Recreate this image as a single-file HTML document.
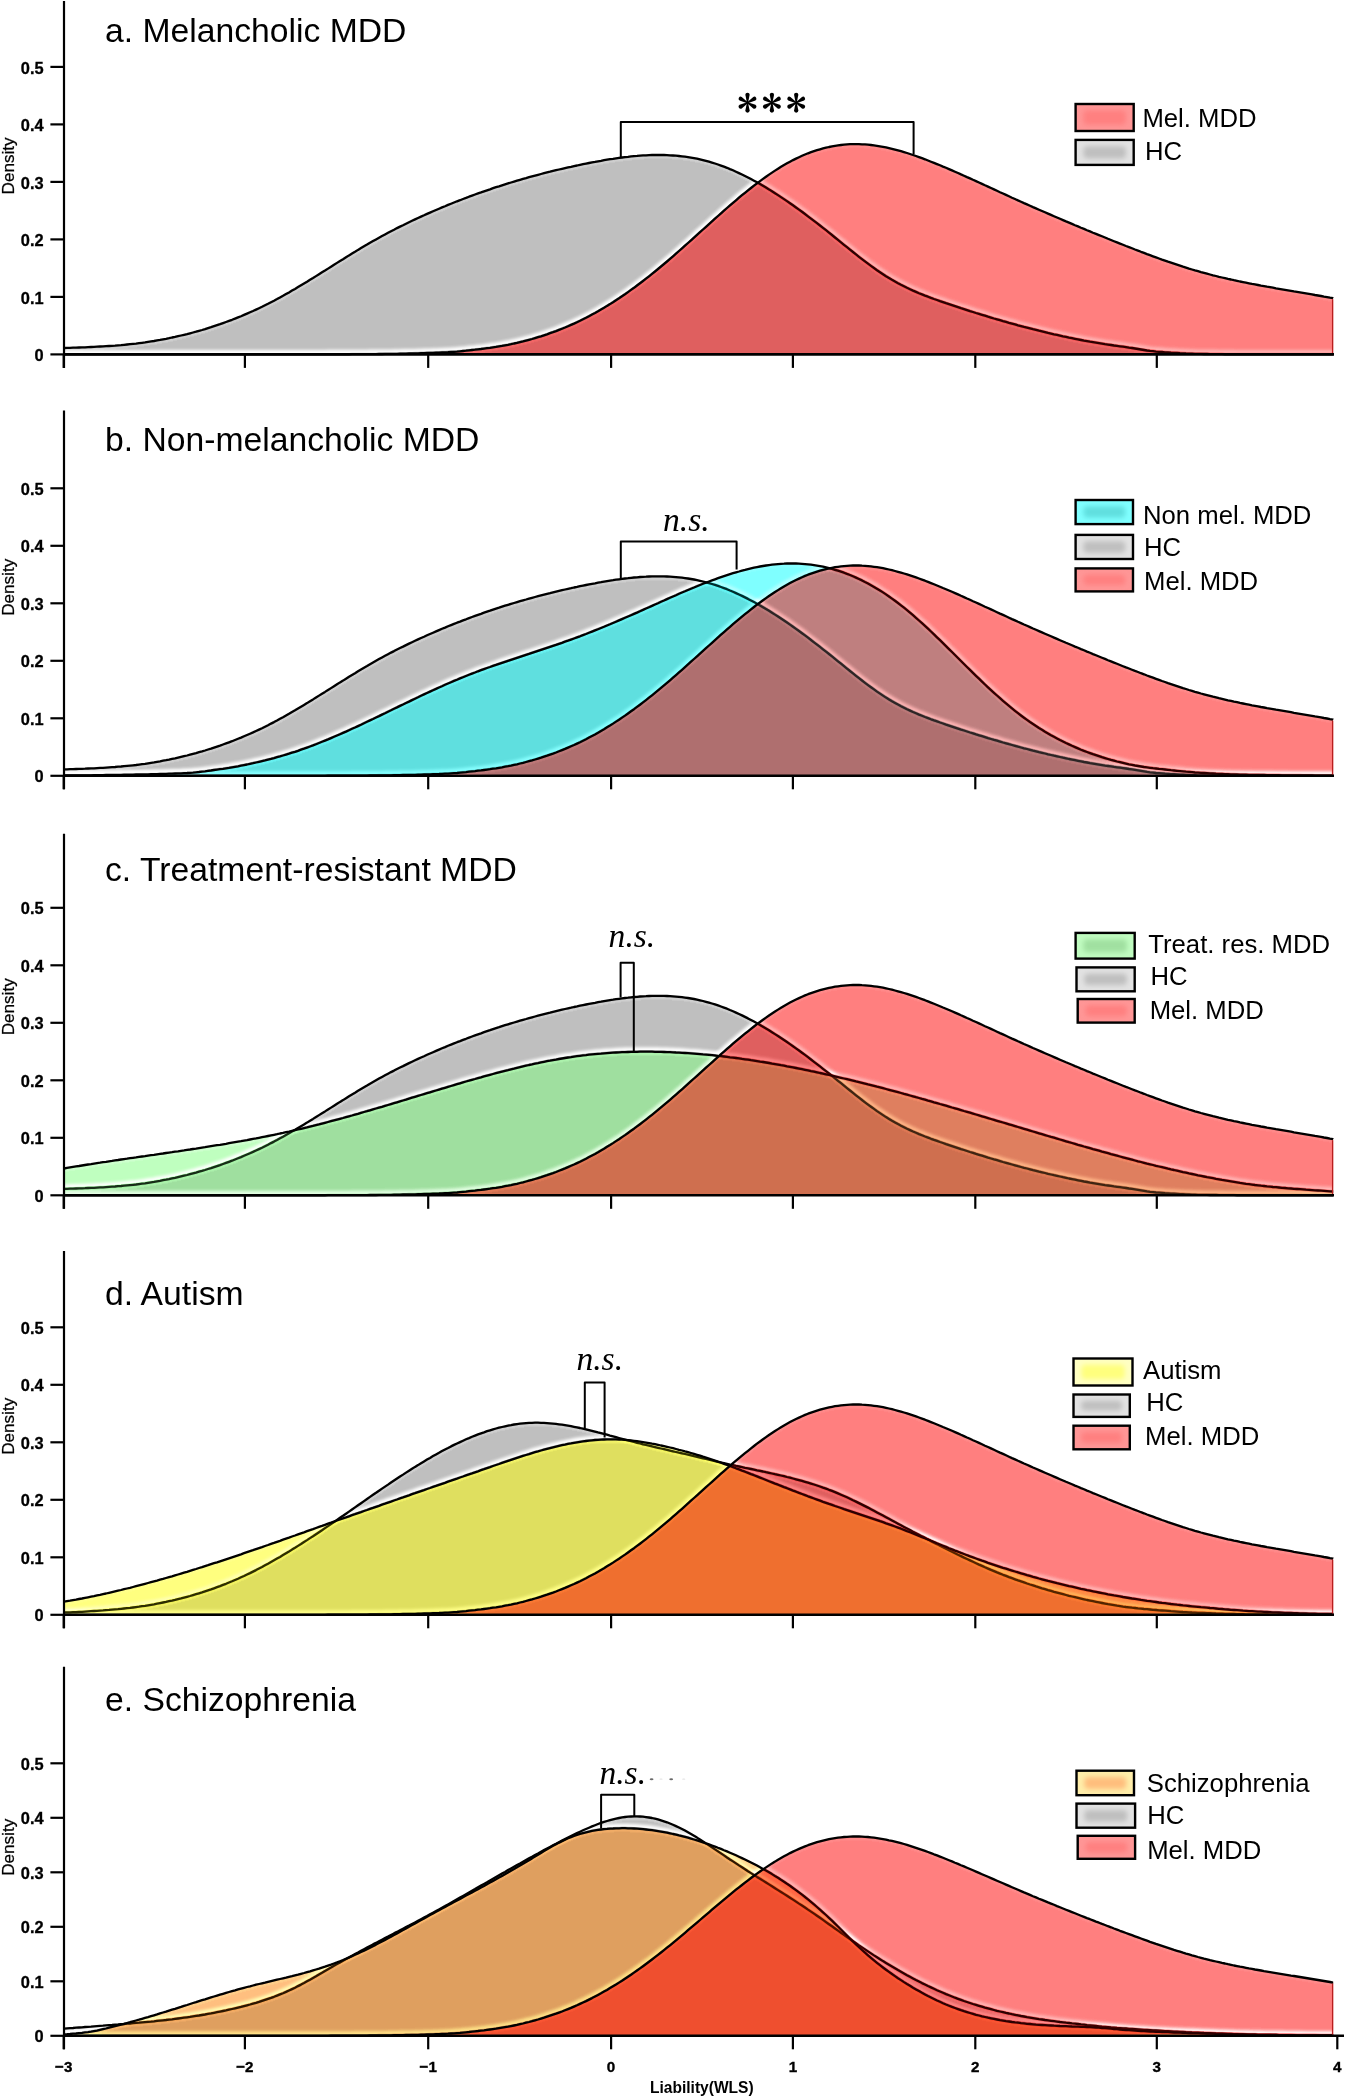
<!DOCTYPE html>
<html><head><meta charset="utf-8"><title>Liability density plots</title>
<style>
html,body{margin:0;padding:0;background:#fff;}
body{width:1345px;height:2097px;overflow:hidden;}
svg{display:block;}
text{fill:#000;}
.tt{font-family:"Liberation Sans",sans-serif;font-size:33.7px;}
.lg{font-family:"Liberation Sans",sans-serif;font-size:25.7px;}
.yt{font-family:"Liberation Sans",sans-serif;font-size:16.4px;font-weight:bold;text-anchor:end;stroke:#000;stroke-width:0.3px;}
.xt{font-family:"Liberation Sans",sans-serif;font-size:15.2px;font-weight:bold;text-anchor:middle;stroke:#000;stroke-width:0.35px;}
.dl{font-family:"Liberation Sans",sans-serif;font-size:17.1px;text-anchor:middle;stroke:#000;stroke-width:0.25px;}
.ns{font-family:"Liberation Serif",serif;font-size:33.6px;font-style:italic;}
.xl{font-family:"Liberation Sans",sans-serif;font-size:16.4px;font-weight:bold;text-anchor:middle;}
</style></head><body>
<svg width="1345" height="2097" viewBox="0 0 1345 2097">
<defs>
<filter id="lgb" x="-50%" y="-80%" width="200%" height="260%"><feGaussianBlur stdDeviation="2.6"/></filter>
<filter id="gb" x="-5%" y="-30%" width="110%" height="160%"><feGaussianBlur stdDeviation="1.8"/></filter>
<filter id="gb2" x="-5%" y="-30%" width="110%" height="160%"><feGaussianBlur stdDeviation="1.2"/></filter>
<path id="c_hca575" d="M64 -6.4l3 -0.1 3 -0.1 3 -0.1 3 -0.1 3 -0.1 3 -0.1 3 -0.1 3 -0.2 3 -0.1 3 -0.1 3 -0.2 3 -0.2 3 -0.1 3 -0.2 3 -0.2 3 -0.2 3 -0.2 3 -0.3 3 -0.2 3 -0.3 3 -0.3 3 -0.3 3 -0.3 3 -0.3 3 -0.4 3 -0.4 3 -0.4 3 -0.5 3 -0.5 3 -0.4 3 -0.6 3 -0.5 3 -0.6 3 -0.5 3 -0.6 3 -0.7 3 -0.6 3 -0.7 3 -0.7 3 -0.7 3 -0.7 3 -0.8 3 -0.8 3 -0.8 3 -0.9 3 -0.8 3 -0.9 3 -1 3 -0.9 3 -1 3 -1 3 -1 3 -1.1 3 -1.1 3 -1.1 3 -1.1 3 -1.2 3 -1.2 3 -1.2 3 -1.3 3 -1.3 3 -1.3 3 -1.3 3 -1.4 3 -1.4 3 -1.4 3 -1.5 3 -1.5 3 -1.6 3 -1.5 3 -1.6 3 -1.7 3 -1.6 3 -1.7 3 -1.7 3 -1.8 3 -1.7 3 -1.8 3 -1.8 3 -1.8 3 -1.8 3 -1.9 3 -1.8 3 -1.9 3 -1.9 3 -1.9 3 -1.8 3 -1.9 3 -1.9 3 -1.9 3 -1.9 3 -1.9 3 -1.8 3 -1.9 3 -1.9 3 -1.8 3 -1.8 3 -1.9 3 -1.8 3 -1.8 3 -1.7 3 -1.8 3 -1.7 3 -1.7 3 -1.7 3 -1.7 3 -1.6 3 -1.6 3 -1.6 3 -1.5 3 -1.6 3 -1.5 3 -1.4 3 -1.5 3 -1.5 3 -1.4 3 -1.4 3 -1.4 3 -1.4 3 -1.3 3 -1.4 3 -1.3 3 -1.3 3 -1.3 3 -1.3 3 -1.3 3 -1.2 3 -1.3 3 -1.2 3 -1.2 3 -1.2 3 -1.1 3 -1.2 3 -1.1 3 -1.2 3 -1.1 3 -1.1 3 -1.1 3 -1 3 -1.1 3 -1 3 -1 3 -1.1 3 -1 3 -0.9 3 -1 3 -1 3 -0.9 3 -0.9 3 -0.9 3 -0.9 3 -0.9 3 -0.9 3 -0.8 3 -0.9 3 -0.8 3 -0.8 3 -0.8 3 -0.8 3 -0.8 3 -0.8 3 -0.7 3 -0.8 3 -0.7 3 -0.7 3 -0.7 3 -0.7 3 -0.7 3 -0.6 3 -0.7 3 -0.6 3 -0.7 3 -0.6 3 -0.6 3 -0.6 3 -0.6 3 -0.5 3 -0.6 3 -0.5 3 -0.6 3 -0.5 3 -0.5 3 -0.4 3 -0.5 3 -0.4 3 -0.4 3 -0.4 3 -0.3 3 -0.4 3 -0.3 3 -0.2 3 -0.3 3 -0.2 3 -0.1 3 -0.2 3 -0.1 3 0 3 0 3 0 3 0 3 0.1 3 0.2 3 0.2 3 0.2 3 0.3 3 0.3 3 0.4 3 0.4 3 0.5 3 0.5 3 0.6 3 0.7 3 0.7 3 0.8 3 0.8 3 0.9 3 0.9 3 1 3 1.1 3 1.1 3 1.1 3 1.3 3 1.2 3 1.4 3 1.4 3 1.4 3 1.5 3 1.5 3 1.6 3 1.6 3 1.6 3 1.7 3 1.8 3 1.8 3 1.8 3 1.9 3 1.9 3 1.9 3 2 3 2 3 2 3 2.1 3 2.1 3 2.2 3 2.1 3 2.2 3 2.2 3 2.3 3 2.3 3 2.3 3 2.3 3 2.3 3 2.4 3 2.3 3 2.4 3 2.4 3 2.5 3 2.4 3 2.4 3 2.5 3 2.4 3 2.4 3 2.4 3 2.4 3 2.4 3 2.3 3 2.3 3 2.3 3 2.2 3 2.1 3 2.2 3 2 3 2 3 2 3 1.8 3 1.8 3 1.7 3 1.7 3 1.6 3 1.5 3 1.5 3 1.4 3 1.4 3 1.3 3 1.3 3 1.2 3 1.2 3 1.1 3 1.2 3 1.1 3 1 3 1.1 3 1 3 1.1 3 1 3 1 3 1 3 1 3 1 3 0.9 3 1 3 1 3 0.9 3 1 3 0.9 3 0.9 3 0.9 3 1 3 0.9 3 0.9 3 0.8 3 0.9 3 0.9 3 0.8 3 0.9 3 0.8 3 0.8 3 0.9 3 0.8 3 0.8 3 0.7 3 0.8 3 0.8 3 0.7 3 0.8 3 0.7 3 0.7 3 0.8 3 0.7 3 0.7 3 0.6 3 0.7 3 0.7 3 0.6 3 0.7 3 0.6 3 0.6 3 0.6 3 0.6 3 0.6 3 0.5 3 0.6 3 0.5 3 0.5 3 0.5 3 0.5 3 0.5 3 0.4 3 0.4 3 0.5 3 0.4 3 0.4 3 0.4 3 0.4 3 0.5 3 0.4 3 0.5 3 0.5 3 0.5 3 0.5 3 0.5 3 0.4 3 0.3 3 0.4 3 0.2 3 0.2 3 0.3 3 0.2 3 0.2 3 0.1 3 0.2 3 0.2 3 0.1 3 0.2 3 0.1 3 0.1 3 0.1 3 0.1 3 0 3 0.1 3 0 3 0.1 3 0 3 0 3 0.1 3 0 3 0.1 3 0 3 0 3 0 3 0.1 3 0 3 0 3 0 3 0 3 0 3 0 3 0 3 0 3 0 3 0 3 0 3 0 3 0 3 0 3 0 3 0 3 0 3 0 3 0 3 0 3 0 3 0 3 0 3 0 3 0 3 0 3 0 3 0 3 0 3 0 3 0 3 0 0.2 0"/>
<path id="f_hca575" d="M64 -6.4l3 -0.1 3 -0.1 3 -0.1 3 -0.1 3 -0.1 3 -0.1 3 -0.1 3 -0.2 3 -0.1 3 -0.1 3 -0.2 3 -0.2 3 -0.1 3 -0.2 3 -0.2 3 -0.2 3 -0.2 3 -0.3 3 -0.2 3 -0.3 3 -0.3 3 -0.3 3 -0.3 3 -0.3 3 -0.4 3 -0.4 3 -0.4 3 -0.5 3 -0.5 3 -0.4 3 -0.6 3 -0.5 3 -0.6 3 -0.5 3 -0.6 3 -0.7 3 -0.6 3 -0.7 3 -0.7 3 -0.7 3 -0.7 3 -0.8 3 -0.8 3 -0.8 3 -0.9 3 -0.8 3 -0.9 3 -1 3 -0.9 3 -1 3 -1 3 -1 3 -1.1 3 -1.1 3 -1.1 3 -1.1 3 -1.2 3 -1.2 3 -1.2 3 -1.3 3 -1.3 3 -1.3 3 -1.3 3 -1.4 3 -1.4 3 -1.4 3 -1.5 3 -1.5 3 -1.6 3 -1.5 3 -1.6 3 -1.7 3 -1.6 3 -1.7 3 -1.7 3 -1.8 3 -1.7 3 -1.8 3 -1.8 3 -1.8 3 -1.8 3 -1.9 3 -1.8 3 -1.9 3 -1.9 3 -1.9 3 -1.8 3 -1.9 3 -1.9 3 -1.9 3 -1.9 3 -1.9 3 -1.8 3 -1.9 3 -1.9 3 -1.8 3 -1.8 3 -1.9 3 -1.8 3 -1.8 3 -1.7 3 -1.8 3 -1.7 3 -1.7 3 -1.7 3 -1.7 3 -1.6 3 -1.6 3 -1.6 3 -1.5 3 -1.6 3 -1.5 3 -1.4 3 -1.5 3 -1.5 3 -1.4 3 -1.4 3 -1.4 3 -1.4 3 -1.3 3 -1.4 3 -1.3 3 -1.3 3 -1.3 3 -1.3 3 -1.3 3 -1.2 3 -1.3 3 -1.2 3 -1.2 3 -1.2 3 -1.1 3 -1.2 3 -1.1 3 -1.2 3 -1.1 3 -1.1 3 -1.1 3 -1 3 -1.1 3 -1 3 -1 3 -1.1 3 -1 3 -0.9 3 -1 3 -1 3 -0.9 3 -0.9 3 -0.9 3 -0.9 3 -0.9 3 -0.9 3 -0.8 3 -0.9 3 -0.8 3 -0.8 3 -0.8 3 -0.8 3 -0.8 3 -0.8 3 -0.7 3 -0.8 3 -0.7 3 -0.7 3 -0.7 3 -0.7 3 -0.7 3 -0.6 3 -0.7 3 -0.6 3 -0.7 3 -0.6 3 -0.6 3 -0.6 3 -0.6 3 -0.5 3 -0.6 3 -0.5 3 -0.6 3 -0.5 3 -0.5 3 -0.4 3 -0.5 3 -0.4 3 -0.4 3 -0.4 3 -0.3 3 -0.4 3 -0.3 3 -0.2 3 -0.3 3 -0.2 3 -0.1 3 -0.2 3 -0.1 3 0 3 0 3 0 3 0 3 0.1 3 0.2 3 0.2 3 0.2 3 0.3 3 0.3 3 0.4 3 0.4 3 0.5 3 0.5 3 0.6 3 0.7 3 0.7 3 0.8 3 0.8 3 0.9 3 0.9 3 1 3 1.1 3 1.1 3 1.1 3 1.3 3 1.2 3 1.4 3 1.4 3 1.4 3 1.5 3 1.5 3 1.6 3 1.6 3 1.6 3 1.7 3 1.8 3 1.8 3 1.8 3 1.9 3 1.9 3 1.9 3 2 3 2 3 2 3 2.1 3 2.1 3 2.2 3 2.1 3 2.2 3 2.2 3 2.3 3 2.3 3 2.3 3 2.3 3 2.3 3 2.4 3 2.3 3 2.4 3 2.4 3 2.5 3 2.4 3 2.4 3 2.5 3 2.4 3 2.4 3 2.4 3 2.4 3 2.4 3 2.3 3 2.3 3 2.3 3 2.2 3 2.1 3 2.2 3 2 3 2 3 2 3 1.8 3 1.8 3 1.7 3 1.7 3 1.6 3 1.5 3 1.5 3 1.4 3 1.4 3 1.3 3 1.3 3 1.2 3 1.2 3 1.1 3 1.2 3 1.1 3 1 3 1.1 3 1 3 1.1 3 1 3 1 3 1 3 1 3 1 3 0.9 3 1 3 1 3 0.9 3 1 3 0.9 3 0.9 3 0.9 3 1 3 0.9 3 0.9 3 0.8 3 0.9 3 0.9 3 0.8 3 0.9 3 0.8 3 0.8 3 0.9 3 0.8 3 0.8 3 0.7 3 0.8 3 0.8 3 0.7 3 0.8 3 0.7 3 0.7 3 0.8 3 0.7 3 0.7 3 0.6 3 0.7 3 0.7 3 0.6 3 0.7 3 0.6 3 0.6 3 0.6 3 0.6 3 0.6 3 0.5 3 0.6 3 0.5 3 0.5 3 0.5 3 0.5 3 0.5 3 0.4 3 0.4 3 0.5 3 0.4 3 0.4 3 0.4 3 0.4 3 0.5 3 0.4 3 0.5 3 0.5 3 0.5 3 0.5 3 0.5 3 0.4 3 0.3 3 0.4 3 0.2 3 0.2 3 0.3 3 0.2 3 0.2 3 0.1 3 0.2 3 0.2 3 0.1 3 0.2 3 0.1 3 0.1 3 0.1 3 0.1 3 0 3 0.1 3 0 3 0.1 3 0 3 0 3 0.1 3 0 3 0.1 3 0 3 0 3 0 3 0.1 3 0 3 0 3 0 3 0 3 0 3 0 3 0 3 0 3 0 3 0 3 0 3 0 3 0 3 0 3 0 3 0 3 0 3 0 3 0 3 0 3 0 3 0 3 0 3 0 3 0 3 0 3 0 3 0 3 0 3 0 3 0 3 0 0.2 0L1333.2 0L64 0Z"/>
<mask id="m_hca575" maskUnits="userSpaceOnUse" x="0" y="-420" width="1345" height="430"><rect x="0" y="-420" width="1345" height="430" fill="#fff"/><use href="#f_hca575" fill="#000" transform="translate(0,-1.6)"/></mask>
<mask id="mb_hca575" maskUnits="userSpaceOnUse" x="0" y="-420" width="1345" height="430"><use href="#f_hca575" fill="#fff" transform="translate(0,1.6)"/></mask>
<mask id="s_hca575" maskUnits="userSpaceOnUse" x="0" y="-420" width="1345" height="430"><use href="#c_hca575" fill="none" stroke="#fff" stroke-width="3.8"/></mask>
<path id="c_mel575" d="M64 0l3 0 3 0 3 0 3 0 3 0 3 0 3 0 3 0 3 0 3 0 3 0 3 0 3 0 3 0 3 0 3 0 3 0 3 0 3 0 3 0 3 0 3 0 3 0 3 0 3 0 3 0 3 0 3 0 3 0 3 0 3 0 3 0 3 0 3 0 3 0 3 0 3 0 3 0 3 0 3 0 3 0 3 0 3 0 3 0 3 0 3 0 3 0 3 0 3 0 3 0 3 0 3 0 3 0 3 0 3 0 3 0 3 0 3 0 3 0 3 0 3 0 3 0 3 0 3 0 3 0 3 0 3 0 3 0 3 0 3 0 3 0 3 0 3 0 3 0 3 0 3 0 3 0 3 0 3 0 3 0 3 0 3 0 3 0 3 0 3 0 3 0 3 0 3 -0.1 3 0 3 0 3 0 3 0 3 0 3 0 3 0 3 -0.1 3 0 3 0 3 0 3 0 3 0 3 -0.1 3 0 3 0 3 -0.1 3 0 3 -0.1 3 0 3 0 3 -0.1 3 0 3 -0.1 3 -0.1 3 0 3 -0.1 3 0 3 -0.1 3 -0.1 3 -0.1 3 -0.1 3 -0.1 3 -0.1 3 -0.1 3 -0.1 3 -0.1 3 -0.2 3 -0.1 3 -0.1 3 -0.2 3 -0.2 3 -0.2 3 -0.3 3 -0.3 3 -0.3 3 -0.4 3 -0.3 3 -0.3 3 -0.4 3 -0.3 3 -0.4 3 -0.4 3 -0.4 3 -0.5 3 -0.4 3 -0.5 3 -0.5 3 -0.6 3 -0.5 3 -0.6 3 -0.7 3 -0.6 3 -0.8 3 -0.7 3 -0.8 3 -0.8 3 -0.8 3 -0.9 3 -0.9 3 -0.9 3 -1 3 -1 3 -1.1 3 -1 3 -1.1 3 -1.2 3 -1.2 3 -1.2 3 -1.3 3 -1.3 3 -1.3 3 -1.4 3 -1.4 3 -1.5 3 -1.5 3 -1.6 3 -1.6 3 -1.6 3 -1.7 3 -1.8 3 -1.7 3 -1.9 3 -1.8 3 -1.9 3 -2 3 -1.9 3 -2.1 3 -2 3 -2.1 3 -2.2 3 -2.1 3 -2.3 3 -2.2 3 -2.3 3 -2.3 3 -2.4 3 -2.4 3 -2.4 3 -2.5 3 -2.5 3 -2.5 3 -2.5 3 -2.6 3 -2.6 3 -2.6 3 -2.7 3 -2.6 3 -2.7 3 -2.7 3 -2.7 3 -2.7 3 -2.7 3 -2.7 3 -2.7 3 -2.7 3 -2.7 3 -2.7 3 -2.7 3 -2.7 3 -2.7 3 -2.6 3 -2.7 3 -2.6 3 -2.6 3 -2.5 3 -2.6 3 -2.5 3 -2.4 3 -2.4 3 -2.4 3 -2.4 3 -2.3 3 -2.2 3 -2.2 3 -2.2 3 -2.1 3 -2 3 -2 3 -1.9 3 -1.9 3 -1.8 3 -1.7 3 -1.6 3 -1.6 3 -1.5 3 -1.4 3 -1.4 3 -1.3 3 -1.2 3 -1.1 3 -1 3 -1 3 -0.9 3 -0.9 3 -0.7 3 -0.7 3 -0.6 3 -0.6 3 -0.4 3 -0.4 3 -0.3 3 -0.3 3 -0.2 3 -0.1 3 0 3 0 3 0.2 3 0.1 3 0.3 3 0.3 3 0.4 3 0.4 3 0.5 3 0.5 3 0.6 3 0.7 3 0.7 3 0.8 3 0.8 3 0.8 3 0.9 3 0.9 3 1 3 1 3 1 3 1.1 3 1.1 3 1.1 3 1.2 3 1.2 3 1.2 3 1.2 3 1.2 3 1.3 3 1.2 3 1.3 3 1.3 3 1.3 3 1.3 3 1.4 3 1.3 3 1.4 3 1.3 3 1.4 3 1.3 3 1.4 3 1.4 3 1.4 3 1.3 3 1.4 3 1.4 3 1.4 3 1.4 3 1.3 3 1.4 3 1.4 3 1.4 3 1.3 3 1.4 3 1.3 3 1.4 3 1.3 3 1.3 3 1.4 3 1.3 3 1.3 3 1.3 3 1.3 3 1.3 3 1.3 3 1.3 3 1.3 3 1.3 3 1.3 3 1.3 3 1.2 3 1.3 3 1.3 3 1.2 3 1.3 3 1.2 3 1.3 3 1.2 3 1.3 3 1.2 3 1.2 3 1.2 3 1.2 3 1.3 3 1.2 3 1.2 3 1.2 3 1.2 3 1.2 3 1.2 3 1.1 3 1.2 3 1.2 3 1.1 3 1.2 3 1.1 3 1.2 3 1.1 3 1.1 3 1.1 3 1.1 3 1.1 3 1 3 1.1 3 1 3 1 3 1 3 1 3 1 3 0.9 3 1 3 0.9 3 0.9 3 0.8 3 0.9 3 0.8 3 0.8 3 0.8 3 0.8 3 0.7 3 0.8 3 0.7 3 0.7 3 0.7 3 0.6 3 0.7 3 0.6 3 0.7 3 0.6 3 0.6 3 0.6 3 0.6 3 0.5 3 0.6 3 0.6 3 0.5 3 0.6 3 0.5 3 0.5 3 0.6 3 0.5 3 0.5 3 0.5 3 0.5 3 0.5 3 0.6 3 0.5 3 0.5 3 0.5 3 0.5 3 0.5 3 0.5 3 0.6 3 0.5 3 0.5 3 0.6 3 0.5 3 0.6 3 0.5 0.2 0.1"/>
<path id="f_mel575" d="M64 0l3 0 3 0 3 0 3 0 3 0 3 0 3 0 3 0 3 0 3 0 3 0 3 0 3 0 3 0 3 0 3 0 3 0 3 0 3 0 3 0 3 0 3 0 3 0 3 0 3 0 3 0 3 0 3 0 3 0 3 0 3 0 3 0 3 0 3 0 3 0 3 0 3 0 3 0 3 0 3 0 3 0 3 0 3 0 3 0 3 0 3 0 3 0 3 0 3 0 3 0 3 0 3 0 3 0 3 0 3 0 3 0 3 0 3 0 3 0 3 0 3 0 3 0 3 0 3 0 3 0 3 0 3 0 3 0 3 0 3 0 3 0 3 0 3 0 3 0 3 0 3 0 3 0 3 0 3 0 3 0 3 0 3 0 3 0 3 0 3 0 3 0 3 0 3 -0.1 3 0 3 0 3 0 3 0 3 0 3 0 3 0 3 -0.1 3 0 3 0 3 0 3 0 3 0 3 -0.1 3 0 3 0 3 -0.1 3 0 3 -0.1 3 0 3 0 3 -0.1 3 0 3 -0.1 3 -0.1 3 0 3 -0.1 3 0 3 -0.1 3 -0.1 3 -0.1 3 -0.1 3 -0.1 3 -0.1 3 -0.1 3 -0.1 3 -0.1 3 -0.2 3 -0.1 3 -0.1 3 -0.2 3 -0.2 3 -0.2 3 -0.3 3 -0.3 3 -0.3 3 -0.4 3 -0.3 3 -0.3 3 -0.4 3 -0.3 3 -0.4 3 -0.4 3 -0.4 3 -0.5 3 -0.4 3 -0.5 3 -0.5 3 -0.6 3 -0.5 3 -0.6 3 -0.7 3 -0.6 3 -0.8 3 -0.7 3 -0.8 3 -0.8 3 -0.8 3 -0.9 3 -0.9 3 -0.9 3 -1 3 -1 3 -1.1 3 -1 3 -1.1 3 -1.2 3 -1.2 3 -1.2 3 -1.3 3 -1.3 3 -1.3 3 -1.4 3 -1.4 3 -1.5 3 -1.5 3 -1.6 3 -1.6 3 -1.6 3 -1.7 3 -1.8 3 -1.7 3 -1.9 3 -1.8 3 -1.9 3 -2 3 -1.9 3 -2.1 3 -2 3 -2.1 3 -2.2 3 -2.1 3 -2.3 3 -2.2 3 -2.3 3 -2.3 3 -2.4 3 -2.4 3 -2.4 3 -2.5 3 -2.5 3 -2.5 3 -2.5 3 -2.6 3 -2.6 3 -2.6 3 -2.7 3 -2.6 3 -2.7 3 -2.7 3 -2.7 3 -2.7 3 -2.7 3 -2.7 3 -2.7 3 -2.7 3 -2.7 3 -2.7 3 -2.7 3 -2.7 3 -2.7 3 -2.6 3 -2.7 3 -2.6 3 -2.6 3 -2.5 3 -2.6 3 -2.5 3 -2.4 3 -2.4 3 -2.4 3 -2.4 3 -2.3 3 -2.2 3 -2.2 3 -2.2 3 -2.1 3 -2 3 -2 3 -1.9 3 -1.9 3 -1.8 3 -1.7 3 -1.6 3 -1.6 3 -1.5 3 -1.4 3 -1.4 3 -1.3 3 -1.2 3 -1.1 3 -1 3 -1 3 -0.9 3 -0.9 3 -0.7 3 -0.7 3 -0.6 3 -0.6 3 -0.4 3 -0.4 3 -0.3 3 -0.3 3 -0.2 3 -0.1 3 0 3 0 3 0.2 3 0.1 3 0.3 3 0.3 3 0.4 3 0.4 3 0.5 3 0.5 3 0.6 3 0.7 3 0.7 3 0.8 3 0.8 3 0.8 3 0.9 3 0.9 3 1 3 1 3 1 3 1.1 3 1.1 3 1.1 3 1.2 3 1.2 3 1.2 3 1.2 3 1.2 3 1.3 3 1.2 3 1.3 3 1.3 3 1.3 3 1.3 3 1.4 3 1.3 3 1.4 3 1.3 3 1.4 3 1.3 3 1.4 3 1.4 3 1.4 3 1.3 3 1.4 3 1.4 3 1.4 3 1.4 3 1.3 3 1.4 3 1.4 3 1.4 3 1.3 3 1.4 3 1.3 3 1.4 3 1.3 3 1.3 3 1.4 3 1.3 3 1.3 3 1.3 3 1.3 3 1.3 3 1.3 3 1.3 3 1.3 3 1.3 3 1.3 3 1.3 3 1.2 3 1.3 3 1.3 3 1.2 3 1.3 3 1.2 3 1.3 3 1.2 3 1.3 3 1.2 3 1.2 3 1.2 3 1.2 3 1.3 3 1.2 3 1.2 3 1.2 3 1.2 3 1.2 3 1.2 3 1.1 3 1.2 3 1.2 3 1.1 3 1.2 3 1.1 3 1.2 3 1.1 3 1.1 3 1.1 3 1.1 3 1.1 3 1 3 1.1 3 1 3 1 3 1 3 1 3 1 3 0.9 3 1 3 0.9 3 0.9 3 0.8 3 0.9 3 0.8 3 0.8 3 0.8 3 0.8 3 0.7 3 0.8 3 0.7 3 0.7 3 0.7 3 0.6 3 0.7 3 0.6 3 0.7 3 0.6 3 0.6 3 0.6 3 0.6 3 0.5 3 0.6 3 0.6 3 0.5 3 0.6 3 0.5 3 0.5 3 0.6 3 0.5 3 0.5 3 0.5 3 0.5 3 0.5 3 0.6 3 0.5 3 0.5 3 0.5 3 0.5 3 0.5 3 0.5 3 0.6 3 0.5 3 0.5 3 0.6 3 0.5 3 0.6 3 0.5 0.2 0.1L1333.2 0L64 0Z"/>
<mask id="m_mel575" maskUnits="userSpaceOnUse" x="0" y="-420" width="1345" height="430"><rect x="0" y="-420" width="1345" height="430" fill="#fff"/><use href="#f_mel575" fill="#000" transform="translate(0,-1.6)"/></mask>
<mask id="mb_mel575" maskUnits="userSpaceOnUse" x="0" y="-420" width="1345" height="430"><use href="#f_mel575" fill="#fff" transform="translate(0,1.6)"/></mask>
<mask id="s_mel575" maskUnits="userSpaceOnUse" x="0" y="-420" width="1345" height="430"><use href="#c_mel575" fill="none" stroke="#fff" stroke-width="3.8"/></mask>
<path id="c_nonmel575" d="M64 -0.3l3 0 3 0 3 -0.1 3 0 3 0 3 0 3 -0.1 3 0 3 0 3 -0.1 3 0 3 -0.1 3 0 3 -0.1 3 0 3 -0.1 3 0 3 -0.1 3 0 3 -0.1 3 0 3 -0.1 3 0 3 -0.1 3 0 3 -0.1 3 -0.1 3 0 3 -0.1 3 -0.1 3 0 3 -0.1 3 -0.1 3 -0.1 3 -0.1 3 -0.1 3 -0.1 3 -0.1 3 -0.1 3 -0.2 3 -0.1 3 -0.2 3 -0.2 3 -0.3 3 -0.3 3 -0.4 3 -0.3 3 -0.4 3 -0.4 3 -0.5 3 -0.4 3 -0.4 3 -0.4 3 -0.5 3 -0.4 3 -0.6 3 -0.5 3 -0.5 3 -0.6 3 -0.6 3 -0.6 3 -0.7 3 -0.6 3 -0.7 3 -0.7 3 -0.7 3 -0.7 3 -0.8 3 -0.7 3 -0.8 3 -0.9 3 -0.8 3 -0.9 3 -0.9 3 -0.9 3 -1 3 -0.9 3 -1 3 -1.1 3 -1 3 -1.1 3 -1.1 3 -1.1 3 -1.2 3 -1.2 3 -1.2 3 -1.2 3 -1.2 3 -1.3 3 -1.3 3 -1.3 3 -1.3 3 -1.3 3 -1.3 3 -1.4 3 -1.4 3 -1.3 3 -1.4 3 -1.4 3 -1.5 3 -1.4 3 -1.4 3 -1.4 3 -1.5 3 -1.4 3 -1.5 3 -1.4 3 -1.5 3 -1.4 3 -1.5 3 -1.4 3 -1.5 3 -1.4 3 -1.5 3 -1.4 3 -1.5 3 -1.4 3 -1.4 3 -1.5 3 -1.4 3 -1.4 3 -1.4 3 -1.4 3 -1.3 3 -1.4 3 -1.3 3 -1.4 3 -1.3 3 -1.3 3 -1.3 3 -1.2 3 -1.3 3 -1.2 3 -1.2 3 -1.2 3 -1.2 3 -1.1 3 -1.2 3 -1.1 3 -1.1 3 -1.1 3 -1 3 -1.1 3 -1 3 -1.1 3 -1 3 -1 3 -1 3 -1 3 -1 3 -1 3 -1 3 -1 3 -1 3 -0.9 3 -1 3 -1 3 -1 3 -1 3 -1 3 -1 3 -1 3 -1 3 -1 3 -1.1 3 -1 3 -1.1 3 -1 3 -1.1 3 -1.1 3 -1.1 3 -1.1 3 -1.2 3 -1.1 3 -1.2 3 -1.2 3 -1.2 3 -1.2 3 -1.2 3 -1.2 3 -1.3 3 -1.2 3 -1.3 3 -1.3 3 -1.3 3 -1.3 3 -1.3 3 -1.3 3 -1.3 3 -1.3 3 -1.3 3 -1.4 3 -1.3 3 -1.4 3 -1.3 3 -1.3 3 -1.4 3 -1.3 3 -1.4 3 -1.3 3 -1.4 3 -1.3 3 -1.3 3 -1.3 3 -1.4 3 -1.3 3 -1.2 3 -1.3 3 -1.3 3 -1.2 3 -1.3 3 -1.2 3 -1.2 3 -1.2 3 -1.1 3 -1.1 3 -1.1 3 -1.1 3 -1.1 3 -1 3 -1 3 -1 3 -0.9 3 -0.9 3 -0.8 3 -0.9 3 -0.7 3 -0.8 3 -0.7 3 -0.7 3 -0.6 3 -0.6 3 -0.5 3 -0.5 3 -0.4 3 -0.4 3 -0.3 3 -0.3 3 -0.3 3 -0.1 3 -0.2 3 0 3 0 3 0 3 0.1 3 0.2 3 0.3 3 0.3 3 0.3 3 0.4 3 0.5 3 0.5 3 0.6 3 0.7 3 0.7 3 0.8 3 0.9 3 0.9 3 1 3 1 3 1.2 3 1.1 3 1.3 3 1.3 3 1.4 3 1.4 3 1.6 3 1.5 3 1.7 3 1.7 3 1.8 3 1.8 3 1.9 3 2 3 2.1 3 2.1 3 2.2 3 2.2 3 2.3 3 2.4 3 2.4 3 2.5 3 2.6 3 2.6 3 2.7 3 2.7 3 2.7 3 2.8 3 2.8 3 2.9 3 2.9 3 2.9 3 2.9 3 3 3 3 3 2.9 3 3 3 3 3 3 3 3 3 3 3 2.9 3 3 3 2.9 3 2.9 3 2.9 3 2.9 3 2.8 3 2.8 3 2.7 3 2.7 3 2.7 3 2.6 3 2.6 3 2.5 3 2.5 3 2.4 3 2.4 3 2.3 3 2.2 3 2.2 3 2.1 3 2 3 2 3 2 3 1.8 3 1.9 3 1.7 3 1.8 3 1.6 3 1.6 3 1.6 3 1.5 3 1.5 3 1.4 3 1.4 3 1.3 3 1.3 3 1.3 3 1.2 3 1.1 3 1.1 3 1.1 3 1 3 1 3 1 3 0.9 3 0.9 3 0.9 3 0.8 3 0.8 3 0.7 3 0.7 3 0.7 3 0.7 3 0.6 3 0.6 3 0.5 3 0.5 3 0.5 3 0.4 3 0.4 3 0.4 3 0.3 3 0.4 3 0.3 3 0.3 3 0.3 3 0.4 3 0.3 3 0.3 3 0.3 3 0.3 3 0.3 3 0.2 3 0.3 3 0.3 3 0.2 3 0.2 3 0.1 3 0.2 3 0.2 3 0.1 3 0.2 3 0.1 3 0.1 3 0.2 3 0.1 3 0.1 3 0.1 3 0.1 3 0.1 3 0.1 3 0 3 0.1 3 0 3 0.1 3 0 3 0.1 3 0 3 0.1 3 0 3 0 3 0.1 3 0 3 0.1 3 0 3 0 3 0.1 3 0 3 0 3 0 3 0.1 3 0 3 0 3 0 3 0.1 3 0 3 0 3 0 3 0 3 0 3 0 0.2 0"/>
<path id="f_nonmel575" d="M64 -0.3l3 0 3 0 3 -0.1 3 0 3 0 3 0 3 -0.1 3 0 3 0 3 -0.1 3 0 3 -0.1 3 0 3 -0.1 3 0 3 -0.1 3 0 3 -0.1 3 0 3 -0.1 3 0 3 -0.1 3 0 3 -0.1 3 0 3 -0.1 3 -0.1 3 0 3 -0.1 3 -0.1 3 0 3 -0.1 3 -0.1 3 -0.1 3 -0.1 3 -0.1 3 -0.1 3 -0.1 3 -0.1 3 -0.2 3 -0.1 3 -0.2 3 -0.2 3 -0.3 3 -0.3 3 -0.4 3 -0.3 3 -0.4 3 -0.4 3 -0.5 3 -0.4 3 -0.4 3 -0.4 3 -0.5 3 -0.4 3 -0.6 3 -0.5 3 -0.5 3 -0.6 3 -0.6 3 -0.6 3 -0.7 3 -0.6 3 -0.7 3 -0.7 3 -0.7 3 -0.7 3 -0.8 3 -0.7 3 -0.8 3 -0.9 3 -0.8 3 -0.9 3 -0.9 3 -0.9 3 -1 3 -0.9 3 -1 3 -1.1 3 -1 3 -1.1 3 -1.1 3 -1.1 3 -1.2 3 -1.2 3 -1.2 3 -1.2 3 -1.2 3 -1.3 3 -1.3 3 -1.3 3 -1.3 3 -1.3 3 -1.3 3 -1.4 3 -1.4 3 -1.3 3 -1.4 3 -1.4 3 -1.5 3 -1.4 3 -1.4 3 -1.4 3 -1.5 3 -1.4 3 -1.5 3 -1.4 3 -1.5 3 -1.4 3 -1.5 3 -1.4 3 -1.5 3 -1.4 3 -1.5 3 -1.4 3 -1.5 3 -1.4 3 -1.4 3 -1.5 3 -1.4 3 -1.4 3 -1.4 3 -1.4 3 -1.3 3 -1.4 3 -1.3 3 -1.4 3 -1.3 3 -1.3 3 -1.3 3 -1.2 3 -1.3 3 -1.2 3 -1.2 3 -1.2 3 -1.2 3 -1.1 3 -1.2 3 -1.1 3 -1.1 3 -1.1 3 -1 3 -1.1 3 -1 3 -1.1 3 -1 3 -1 3 -1 3 -1 3 -1 3 -1 3 -1 3 -1 3 -1 3 -0.9 3 -1 3 -1 3 -1 3 -1 3 -1 3 -1 3 -1 3 -1 3 -1 3 -1.1 3 -1 3 -1.1 3 -1 3 -1.1 3 -1.1 3 -1.1 3 -1.1 3 -1.2 3 -1.1 3 -1.2 3 -1.2 3 -1.2 3 -1.2 3 -1.2 3 -1.2 3 -1.3 3 -1.2 3 -1.3 3 -1.3 3 -1.3 3 -1.3 3 -1.3 3 -1.3 3 -1.3 3 -1.3 3 -1.3 3 -1.4 3 -1.3 3 -1.4 3 -1.3 3 -1.3 3 -1.4 3 -1.3 3 -1.4 3 -1.3 3 -1.4 3 -1.3 3 -1.3 3 -1.3 3 -1.4 3 -1.3 3 -1.2 3 -1.3 3 -1.3 3 -1.2 3 -1.3 3 -1.2 3 -1.2 3 -1.2 3 -1.1 3 -1.1 3 -1.1 3 -1.1 3 -1.1 3 -1 3 -1 3 -1 3 -0.9 3 -0.9 3 -0.8 3 -0.9 3 -0.7 3 -0.8 3 -0.7 3 -0.7 3 -0.6 3 -0.6 3 -0.5 3 -0.5 3 -0.4 3 -0.4 3 -0.3 3 -0.3 3 -0.3 3 -0.1 3 -0.2 3 0 3 0 3 0 3 0.1 3 0.2 3 0.3 3 0.3 3 0.3 3 0.4 3 0.5 3 0.5 3 0.6 3 0.7 3 0.7 3 0.8 3 0.9 3 0.9 3 1 3 1 3 1.2 3 1.1 3 1.3 3 1.3 3 1.4 3 1.4 3 1.6 3 1.5 3 1.7 3 1.7 3 1.8 3 1.8 3 1.9 3 2 3 2.1 3 2.1 3 2.2 3 2.2 3 2.3 3 2.4 3 2.4 3 2.5 3 2.6 3 2.6 3 2.7 3 2.7 3 2.7 3 2.8 3 2.8 3 2.9 3 2.9 3 2.9 3 2.9 3 3 3 3 3 2.9 3 3 3 3 3 3 3 3 3 3 3 2.9 3 3 3 2.9 3 2.9 3 2.9 3 2.9 3 2.8 3 2.8 3 2.7 3 2.7 3 2.7 3 2.6 3 2.6 3 2.5 3 2.5 3 2.4 3 2.4 3 2.3 3 2.2 3 2.2 3 2.1 3 2 3 2 3 2 3 1.8 3 1.9 3 1.7 3 1.8 3 1.6 3 1.6 3 1.6 3 1.5 3 1.5 3 1.4 3 1.4 3 1.3 3 1.3 3 1.3 3 1.2 3 1.1 3 1.1 3 1.1 3 1 3 1 3 1 3 0.9 3 0.9 3 0.9 3 0.8 3 0.8 3 0.7 3 0.7 3 0.7 3 0.7 3 0.6 3 0.6 3 0.5 3 0.5 3 0.5 3 0.4 3 0.4 3 0.4 3 0.3 3 0.4 3 0.3 3 0.3 3 0.3 3 0.4 3 0.3 3 0.3 3 0.3 3 0.3 3 0.3 3 0.2 3 0.3 3 0.3 3 0.2 3 0.2 3 0.1 3 0.2 3 0.2 3 0.1 3 0.2 3 0.1 3 0.1 3 0.2 3 0.1 3 0.1 3 0.1 3 0.1 3 0.1 3 0.1 3 0 3 0.1 3 0 3 0.1 3 0 3 0.1 3 0 3 0.1 3 0 3 0 3 0.1 3 0 3 0.1 3 0 3 0 3 0.1 3 0 3 0 3 0 3 0.1 3 0 3 0 3 0 3 0.1 3 0 3 0 3 0 3 0 3 0 3 0 0.2 0L1333.2 0L64 0Z"/>
<mask id="m_nonmel575" maskUnits="userSpaceOnUse" x="0" y="-420" width="1345" height="430"><rect x="0" y="-420" width="1345" height="430" fill="#fff"/><use href="#f_nonmel575" fill="#000" transform="translate(0,-1.6)"/></mask>
<mask id="mb_nonmel575" maskUnits="userSpaceOnUse" x="0" y="-420" width="1345" height="430"><use href="#f_nonmel575" fill="#fff" transform="translate(0,1.6)"/></mask>
<mask id="s_nonmel575" maskUnits="userSpaceOnUse" x="0" y="-420" width="1345" height="430"><use href="#c_nonmel575" fill="none" stroke="#fff" stroke-width="3.8"/></mask>
<path id="c_treat575" d="M64 -26.8l3 -0.6 3 -0.5 3 -0.5 3 -0.5 3 -0.4 3 -0.5 3 -0.5 3 -0.5 3 -0.4 3 -0.5 3 -0.5 3 -0.4 3 -0.5 3 -0.4 3 -0.5 3 -0.4 3 -0.5 3 -0.4 3 -0.5 3 -0.4 3 -0.4 3 -0.5 3 -0.4 3 -0.4 3 -0.5 3 -0.4 3 -0.4 3 -0.5 3 -0.4 3 -0.4 3 -0.5 3 -0.4 3 -0.4 3 -0.5 3 -0.4 3 -0.4 3 -0.5 3 -0.4 3 -0.5 3 -0.4 3 -0.5 3 -0.4 3 -0.5 3 -0.4 3 -0.5 3 -0.5 3 -0.4 3 -0.5 3 -0.5 3 -0.5 3 -0.5 3 -0.4 3 -0.5 3 -0.5 3 -0.6 3 -0.5 3 -0.5 3 -0.5 3 -0.5 3 -0.6 3 -0.5 3 -0.6 3 -0.6 3 -0.5 3 -0.6 3 -0.6 3 -0.6 3 -0.6 3 -0.6 3 -0.6 3 -0.6 3 -0.7 3 -0.6 3 -0.7 3 -0.6 3 -0.7 3 -0.7 3 -0.7 3 -0.7 3 -0.7 3 -0.7 3 -0.8 3 -0.7 3 -0.8 3 -0.7 3 -0.8 3 -0.8 3 -0.8 3 -0.8 3 -0.8 3 -0.8 3 -0.8 3 -0.8 3 -0.9 3 -0.8 3 -0.8 3 -0.9 3 -0.8 3 -0.9 3 -0.9 3 -0.8 3 -0.9 3 -0.9 3 -0.9 3 -0.9 3 -0.8 3 -0.9 3 -0.9 3 -0.9 3 -0.9 3 -0.9 3 -0.9 3 -0.9 3 -0.9 3 -1 3 -0.9 3 -0.9 3 -0.9 3 -0.9 3 -0.9 3 -0.9 3 -0.9 3 -0.9 3 -0.9 3 -0.9 3 -0.9 3 -0.9 3 -0.9 3 -0.9 3 -0.9 3 -0.9 3 -0.9 3 -0.9 3 -0.9 3 -0.8 3 -0.9 3 -0.8 3 -0.9 3 -0.8 3 -0.9 3 -0.8 3 -0.8 3 -0.8 3 -0.8 3 -0.8 3 -0.8 3 -0.8 3 -0.7 3 -0.8 3 -0.7 3 -0.8 3 -0.7 3 -0.7 3 -0.7 3 -0.7 3 -0.6 3 -0.7 3 -0.6 3 -0.7 3 -0.6 3 -0.6 3 -0.5 3 -0.6 3 -0.5 3 -0.6 3 -0.5 3 -0.5 3 -0.5 3 -0.4 3 -0.5 3 -0.4 3 -0.4 3 -0.4 3 -0.3 3 -0.4 3 -0.3 3 -0.3 3 -0.3 3 -0.2 3 -0.3 3 -0.2 3 -0.2 3 -0.2 3 -0.2 3 -0.2 3 -0.1 3 -0.1 3 -0.1 3 -0.1 3 -0.1 3 0 3 -0.1 3 0 3 0 3 0 3 0 3 0.1 3 0 3 0.1 3 0.1 3 0.1 3 0.1 3 0.1 3 0.2 3 0.1 3 0.2 3 0.2 3 0.2 3 0.2 3 0.2 3 0.2 3 0.3 3 0.3 3 0.2 3 0.3 3 0.3 3 0.3 3 0.4 3 0.3 3 0.3 3 0.4 3 0.4 3 0.3 3 0.4 3 0.4 3 0.5 3 0.4 3 0.4 3 0.5 3 0.4 3 0.5 3 0.5 3 0.4 3 0.5 3 0.5 3 0.6 3 0.5 3 0.5 3 0.6 3 0.5 3 0.6 3 0.5 3 0.6 3 0.6 3 0.6 3 0.6 3 0.6 3 0.6 3 0.7 3 0.6 3 0.6 3 0.7 3 0.6 3 0.7 3 0.7 3 0.7 3 0.7 3 0.7 3 0.7 3 0.7 3 0.7 3 0.7 3 0.7 3 0.8 3 0.7 3 0.7 3 0.8 3 0.8 3 0.7 3 0.8 3 0.8 3 0.7 3 0.8 3 0.8 3 0.8 3 0.8 3 0.8 3 0.8 3 0.8 3 0.9 3 0.8 3 0.8 3 0.8 3 0.9 3 0.8 3 0.9 3 0.8 3 0.9 3 0.8 3 0.9 3 0.8 3 0.9 3 0.8 3 0.9 3 0.9 3 0.9 3 0.8 3 0.9 3 0.9 3 0.9 3 0.8 3 0.9 3 0.9 3 0.9 3 0.9 3 0.9 3 0.9 3 0.9 3 0.9 3 0.9 3 0.9 3 0.9 3 0.8 3 0.9 3 0.9 3 0.9 3 0.9 3 0.9 3 0.9 3 0.9 3 0.9 3 0.9 3 0.9 3 0.9 3 0.9 3 0.9 3 0.9 3 0.9 3 0.9 3 0.8 3 0.9 3 0.9 3 0.9 3 0.9 3 0.9 3 0.8 3 0.9 3 0.9 3 0.8 3 0.9 3 0.8 3 0.9 3 0.9 3 0.8 3 0.8 3 0.9 3 0.8 3 0.8 3 0.9 3 0.8 3 0.8 3 0.8 3 0.8 3 0.8 3 0.8 3 0.8 3 0.8 3 0.8 3 0.7 3 0.8 3 0.8 3 0.7 3 0.7 3 0.8 3 0.7 3 0.7 3 0.7 3 0.8 3 0.7 3 0.6 3 0.7 3 0.7 3 0.7 3 0.6 3 0.7 3 0.6 3 0.6 3 0.7 3 0.6 3 0.6 3 0.6 3 0.5 3 0.6 3 0.6 3 0.5 3 0.6 3 0.5 3 0.5 3 0.5 3 0.5 3 0.5 3 0.5 3 0.4 3 0.5 3 0.4 3 0.4 3 0.4 3 0.3 3 0.4 3 0.3 3 0.4 3 0.3 3 0.3 3 0.2 3 0.3 3 0.3 3 0.2 3 0.3 3 0.2 3 0.3 3 0.2 3 0.2 3 0.2 3 0.3 3 0.2 3 0.2 3 0.2 3 0.2 3 0.2 3 0.2 3 0.2 3 0.2 3 0.2 0.2 0"/>
<path id="f_treat575" d="M64 -26.8l3 -0.6 3 -0.5 3 -0.5 3 -0.5 3 -0.4 3 -0.5 3 -0.5 3 -0.5 3 -0.4 3 -0.5 3 -0.5 3 -0.4 3 -0.5 3 -0.4 3 -0.5 3 -0.4 3 -0.5 3 -0.4 3 -0.5 3 -0.4 3 -0.4 3 -0.5 3 -0.4 3 -0.4 3 -0.5 3 -0.4 3 -0.4 3 -0.5 3 -0.4 3 -0.4 3 -0.5 3 -0.4 3 -0.4 3 -0.5 3 -0.4 3 -0.4 3 -0.5 3 -0.4 3 -0.5 3 -0.4 3 -0.5 3 -0.4 3 -0.5 3 -0.4 3 -0.5 3 -0.5 3 -0.4 3 -0.5 3 -0.5 3 -0.5 3 -0.5 3 -0.4 3 -0.5 3 -0.5 3 -0.6 3 -0.5 3 -0.5 3 -0.5 3 -0.5 3 -0.6 3 -0.5 3 -0.6 3 -0.6 3 -0.5 3 -0.6 3 -0.6 3 -0.6 3 -0.6 3 -0.6 3 -0.6 3 -0.6 3 -0.7 3 -0.6 3 -0.7 3 -0.6 3 -0.7 3 -0.7 3 -0.7 3 -0.7 3 -0.7 3 -0.7 3 -0.8 3 -0.7 3 -0.8 3 -0.7 3 -0.8 3 -0.8 3 -0.8 3 -0.8 3 -0.8 3 -0.8 3 -0.8 3 -0.8 3 -0.9 3 -0.8 3 -0.8 3 -0.9 3 -0.8 3 -0.9 3 -0.9 3 -0.8 3 -0.9 3 -0.9 3 -0.9 3 -0.9 3 -0.8 3 -0.9 3 -0.9 3 -0.9 3 -0.9 3 -0.9 3 -0.9 3 -0.9 3 -0.9 3 -1 3 -0.9 3 -0.9 3 -0.9 3 -0.9 3 -0.9 3 -0.9 3 -0.9 3 -0.9 3 -0.9 3 -0.9 3 -0.9 3 -0.9 3 -0.9 3 -0.9 3 -0.9 3 -0.9 3 -0.9 3 -0.9 3 -0.9 3 -0.8 3 -0.9 3 -0.8 3 -0.9 3 -0.8 3 -0.9 3 -0.8 3 -0.8 3 -0.8 3 -0.8 3 -0.8 3 -0.8 3 -0.8 3 -0.7 3 -0.8 3 -0.7 3 -0.8 3 -0.7 3 -0.7 3 -0.7 3 -0.7 3 -0.6 3 -0.7 3 -0.6 3 -0.7 3 -0.6 3 -0.6 3 -0.5 3 -0.6 3 -0.5 3 -0.6 3 -0.5 3 -0.5 3 -0.5 3 -0.4 3 -0.5 3 -0.4 3 -0.4 3 -0.4 3 -0.3 3 -0.4 3 -0.3 3 -0.3 3 -0.3 3 -0.2 3 -0.3 3 -0.2 3 -0.2 3 -0.2 3 -0.2 3 -0.2 3 -0.1 3 -0.1 3 -0.1 3 -0.1 3 -0.1 3 0 3 -0.1 3 0 3 0 3 0 3 0 3 0.1 3 0 3 0.1 3 0.1 3 0.1 3 0.1 3 0.1 3 0.2 3 0.1 3 0.2 3 0.2 3 0.2 3 0.2 3 0.2 3 0.2 3 0.3 3 0.3 3 0.2 3 0.3 3 0.3 3 0.3 3 0.4 3 0.3 3 0.3 3 0.4 3 0.4 3 0.3 3 0.4 3 0.4 3 0.5 3 0.4 3 0.4 3 0.5 3 0.4 3 0.5 3 0.5 3 0.4 3 0.5 3 0.5 3 0.6 3 0.5 3 0.5 3 0.6 3 0.5 3 0.6 3 0.5 3 0.6 3 0.6 3 0.6 3 0.6 3 0.6 3 0.6 3 0.7 3 0.6 3 0.6 3 0.7 3 0.6 3 0.7 3 0.7 3 0.7 3 0.7 3 0.7 3 0.7 3 0.7 3 0.7 3 0.7 3 0.7 3 0.8 3 0.7 3 0.7 3 0.8 3 0.8 3 0.7 3 0.8 3 0.8 3 0.7 3 0.8 3 0.8 3 0.8 3 0.8 3 0.8 3 0.8 3 0.8 3 0.9 3 0.8 3 0.8 3 0.8 3 0.9 3 0.8 3 0.9 3 0.8 3 0.9 3 0.8 3 0.9 3 0.8 3 0.9 3 0.8 3 0.9 3 0.9 3 0.9 3 0.8 3 0.9 3 0.9 3 0.9 3 0.8 3 0.9 3 0.9 3 0.9 3 0.9 3 0.9 3 0.9 3 0.9 3 0.9 3 0.9 3 0.9 3 0.9 3 0.8 3 0.9 3 0.9 3 0.9 3 0.9 3 0.9 3 0.9 3 0.9 3 0.9 3 0.9 3 0.9 3 0.9 3 0.9 3 0.9 3 0.9 3 0.9 3 0.9 3 0.8 3 0.9 3 0.9 3 0.9 3 0.9 3 0.9 3 0.8 3 0.9 3 0.9 3 0.8 3 0.9 3 0.8 3 0.9 3 0.9 3 0.8 3 0.8 3 0.9 3 0.8 3 0.8 3 0.9 3 0.8 3 0.8 3 0.8 3 0.8 3 0.8 3 0.8 3 0.8 3 0.8 3 0.8 3 0.7 3 0.8 3 0.8 3 0.7 3 0.7 3 0.8 3 0.7 3 0.7 3 0.7 3 0.8 3 0.7 3 0.6 3 0.7 3 0.7 3 0.7 3 0.6 3 0.7 3 0.6 3 0.6 3 0.7 3 0.6 3 0.6 3 0.6 3 0.5 3 0.6 3 0.6 3 0.5 3 0.6 3 0.5 3 0.5 3 0.5 3 0.5 3 0.5 3 0.5 3 0.4 3 0.5 3 0.4 3 0.4 3 0.4 3 0.3 3 0.4 3 0.3 3 0.4 3 0.3 3 0.3 3 0.2 3 0.3 3 0.3 3 0.2 3 0.3 3 0.2 3 0.3 3 0.2 3 0.2 3 0.2 3 0.3 3 0.2 3 0.2 3 0.2 3 0.2 3 0.2 3 0.2 3 0.2 3 0.2 3 0.2 0.2 0L1333.2 0L64 0Z"/>
<mask id="m_treat575" maskUnits="userSpaceOnUse" x="0" y="-420" width="1345" height="430"><rect x="0" y="-420" width="1345" height="430" fill="#fff"/><use href="#f_treat575" fill="#000" transform="translate(0,-1.6)"/></mask>
<mask id="mb_treat575" maskUnits="userSpaceOnUse" x="0" y="-420" width="1345" height="430"><use href="#f_treat575" fill="#fff" transform="translate(0,1.6)"/></mask>
<mask id="s_treat575" maskUnits="userSpaceOnUse" x="0" y="-420" width="1345" height="430"><use href="#c_treat575" fill="none" stroke="#fff" stroke-width="3.8"/></mask>
<path id="c_hcd575" d="M64 -2.4l3 -0.1 3 0 3 -0.1 3 -0.1 3 -0.2 3 -0.1 3 -0.2 3 -0.2 3 -0.2 3 -0.2 3 -0.2 3 -0.2 3 -0.2 3 -0.3 3 -0.2 3 -0.3 3 -0.3 3 -0.2 3 -0.3 3 -0.3 3 -0.3 3 -0.3 3 -0.4 3 -0.4 3 -0.4 3 -0.5 3 -0.4 3 -0.5 3 -0.5 3 -0.5 3 -0.6 3 -0.6 3 -0.6 3 -0.6 3 -0.7 3 -0.6 3 -0.7 3 -0.8 3 -0.7 3 -0.8 3 -0.8 3 -0.8 3 -0.9 3 -0.9 3 -0.9 3 -0.9 3 -1 3 -1 3 -1 3 -1.1 3 -1.1 3 -1.1 3 -1.2 3 -1.1 3 -1.3 3 -1.2 3 -1.3 3 -1.3 3 -1.4 3 -1.3 3 -1.5 3 -1.4 3 -1.5 3 -1.5 3 -1.6 3 -1.5 3 -1.7 3 -1.6 3 -1.7 3 -1.7 3 -1.7 3 -1.7 3 -1.8 3 -1.8 3 -1.8 3 -1.9 3 -1.8 3 -1.9 3 -1.9 3 -2 3 -1.9 3 -2 3 -1.9 3 -2 3 -2 3 -2 3 -2.1 3 -2 3 -2.1 3 -2 3 -2.1 3 -2.1 3 -2 3 -2.1 3 -2.1 3 -2.1 3 -2.1 3 -2.1 3 -2.1 3 -2.1 3 -2.1 3 -2.1 3 -2.1 3 -2 3 -2.1 3 -2.1 3 -2 3 -2 3 -2.1 3 -2 3 -2 3 -2 3 -1.9 3 -2 3 -1.9 3 -1.9 3 -1.9 3 -1.8 3 -1.9 3 -1.8 3 -1.8 3 -1.7 3 -1.8 3 -1.7 3 -1.6 3 -1.7 3 -1.6 3 -1.5 3 -1.6 3 -1.5 3 -1.4 3 -1.4 3 -1.4 3 -1.4 3 -1.2 3 -1.3 3 -1.2 3 -1.2 3 -1.1 3 -1 3 -1.1 3 -0.9 3 -0.9 3 -0.9 3 -0.8 3 -0.7 3 -0.7 3 -0.7 3 -0.5 3 -0.6 3 -0.4 3 -0.4 3 -0.3 3 -0.3 3 -0.2 3 -0.1 3 -0.1 3 0 3 0.1 3 0.1 3 0.2 3 0.2 3 0.3 3 0.3 3 0.4 3 0.4 3 0.5 3 0.5 3 0.5 3 0.6 3 0.6 3 0.6 3 0.7 3 0.7 3 0.7 3 0.7 3 0.8 3 0.8 3 0.7 3 0.8 3 0.8 3 0.9 3 0.8 3 0.8 3 0.8 3 0.8 3 0.8 3 0.8 3 0.8 3 0.8 3 0.8 3 0.7 3 0.8 3 0.7 3 0.7 3 0.7 3 0.7 3 0.7 3 0.7 3 0.7 3 0.7 3 0.7 3 0.7 3 0.7 3 0.7 3 0.6 3 0.7 3 0.7 3 0.7 3 0.8 3 0.7 3 0.7 3 0.7 3 0.7 3 0.7 3 0.7 3 0.7 3 0.7 3 0.7 3 0.7 3 0.7 3 0.7 3 0.6 3 0.7 3 0.6 3 0.6 3 0.7 3 0.6 3 0.6 3 0.6 3 0.7 3 0.6 3 0.6 3 0.7 3 0.6 3 0.7 3 0.7 3 0.6 3 0.7 3 0.7 3 0.8 3 0.7 3 0.8 3 0.8 3 0.8 3 0.8 3 0.9 3 0.9 3 0.9 3 0.9 3 1 3 1 3 1.1 3 1 3 1.2 3 1.1 3 1.2 3 1.3 3 1.3 3 1.3 3 1.3 3 1.4 3 1.5 3 1.4 3 1.5 3 1.5 3 1.5 3 1.5 3 1.6 3 1.6 3 1.6 3 1.6 3 1.6 3 1.6 3 1.6 3 1.6 3 1.7 3 1.6 3 1.6 3 1.6 3 1.6 3 1.6 3 1.6 3 1.5 3 1.6 3 1.6 3 1.5 3 1.6 3 1.6 3 1.5 3 1.5 3 1.6 3 1.5 3 1.5 3 1.5 3 1.5 3 1.5 3 1.5 3 1.4 3 1.5 3 1.4 3 1.4 3 1.4 3 1.4 3 1.4 3 1.3 3 1.4 3 1.3 3 1.3 3 1.2 3 1.3 3 1.2 3 1.2 3 1.1 3 1.2 3 1.1 3 1.1 3 1.1 3 1 3 1 3 1.1 3 1 3 0.9 3 1 3 0.9 3 1 3 0.9 3 0.9 3 0.8 3 0.9 3 0.8 3 0.8 3 0.8 3 0.8 3 0.8 3 0.7 3 0.7 3 0.7 3 0.7 3 0.7 3 0.7 3 0.6 3 0.6 3 0.6 3 0.6 3 0.6 3 0.6 3 0.6 3 0.5 3 0.5 3 0.5 3 0.4 3 0.5 3 0.4 3 0.3 3 0.4 3 0.3 3 0.4 3 0.3 3 0.3 3 0.2 3 0.3 3 0.3 3 0.2 3 0.3 3 0.2 3 0.2 3 0.2 3 0.3 3 0.2 3 0.2 3 0.2 3 0.2 3 0.1 3 0.2 3 0.2 3 0.1 3 0.2 3 0.1 3 0.1 3 0.1 3 0.1 3 0.1 3 0.2 3 0.1 3 0.1 3 0.1 3 0.1 3 0 3 0.1 3 0.1 3 0.1 3 0 3 0.1 3 0.1 3 0 3 0.1 3 0 3 0 3 0 3 0 3 0.1 3 0 3 0 3 0 3 0 3 0.1 3 0 3 0 3 0 3 0 3 0 3 0 3 0.1 3 0 3 0 3 0 3 0 3 0 3 0 3 0 3 0 3 0 0.2 0"/>
<path id="f_hcd575" d="M64 -2.4l3 -0.1 3 0 3 -0.1 3 -0.1 3 -0.2 3 -0.1 3 -0.2 3 -0.2 3 -0.2 3 -0.2 3 -0.2 3 -0.2 3 -0.2 3 -0.3 3 -0.2 3 -0.3 3 -0.3 3 -0.2 3 -0.3 3 -0.3 3 -0.3 3 -0.3 3 -0.4 3 -0.4 3 -0.4 3 -0.5 3 -0.4 3 -0.5 3 -0.5 3 -0.5 3 -0.6 3 -0.6 3 -0.6 3 -0.6 3 -0.7 3 -0.6 3 -0.7 3 -0.8 3 -0.7 3 -0.8 3 -0.8 3 -0.8 3 -0.9 3 -0.9 3 -0.9 3 -0.9 3 -1 3 -1 3 -1 3 -1.1 3 -1.1 3 -1.1 3 -1.2 3 -1.1 3 -1.3 3 -1.2 3 -1.3 3 -1.3 3 -1.4 3 -1.3 3 -1.5 3 -1.4 3 -1.5 3 -1.5 3 -1.6 3 -1.5 3 -1.7 3 -1.6 3 -1.7 3 -1.7 3 -1.7 3 -1.7 3 -1.8 3 -1.8 3 -1.8 3 -1.9 3 -1.8 3 -1.9 3 -1.9 3 -2 3 -1.9 3 -2 3 -1.9 3 -2 3 -2 3 -2 3 -2.1 3 -2 3 -2.1 3 -2 3 -2.1 3 -2.1 3 -2 3 -2.1 3 -2.1 3 -2.1 3 -2.1 3 -2.1 3 -2.1 3 -2.1 3 -2.1 3 -2.1 3 -2.1 3 -2 3 -2.1 3 -2.1 3 -2 3 -2 3 -2.1 3 -2 3 -2 3 -2 3 -1.9 3 -2 3 -1.9 3 -1.9 3 -1.9 3 -1.8 3 -1.9 3 -1.8 3 -1.8 3 -1.7 3 -1.8 3 -1.7 3 -1.6 3 -1.7 3 -1.6 3 -1.5 3 -1.6 3 -1.5 3 -1.4 3 -1.4 3 -1.4 3 -1.4 3 -1.2 3 -1.3 3 -1.2 3 -1.2 3 -1.1 3 -1 3 -1.1 3 -0.9 3 -0.9 3 -0.9 3 -0.8 3 -0.7 3 -0.7 3 -0.7 3 -0.5 3 -0.6 3 -0.4 3 -0.4 3 -0.3 3 -0.3 3 -0.2 3 -0.1 3 -0.1 3 0 3 0.1 3 0.1 3 0.2 3 0.2 3 0.3 3 0.3 3 0.4 3 0.4 3 0.5 3 0.5 3 0.5 3 0.6 3 0.6 3 0.6 3 0.7 3 0.7 3 0.7 3 0.7 3 0.8 3 0.8 3 0.7 3 0.8 3 0.8 3 0.9 3 0.8 3 0.8 3 0.8 3 0.8 3 0.8 3 0.8 3 0.8 3 0.8 3 0.8 3 0.7 3 0.8 3 0.7 3 0.7 3 0.7 3 0.7 3 0.7 3 0.7 3 0.7 3 0.7 3 0.7 3 0.7 3 0.7 3 0.7 3 0.6 3 0.7 3 0.7 3 0.7 3 0.8 3 0.7 3 0.7 3 0.7 3 0.7 3 0.7 3 0.7 3 0.7 3 0.7 3 0.7 3 0.7 3 0.7 3 0.7 3 0.6 3 0.7 3 0.6 3 0.6 3 0.7 3 0.6 3 0.6 3 0.6 3 0.7 3 0.6 3 0.6 3 0.7 3 0.6 3 0.7 3 0.7 3 0.6 3 0.7 3 0.7 3 0.8 3 0.7 3 0.8 3 0.8 3 0.8 3 0.8 3 0.9 3 0.9 3 0.9 3 0.9 3 1 3 1 3 1.1 3 1 3 1.2 3 1.1 3 1.2 3 1.3 3 1.3 3 1.3 3 1.3 3 1.4 3 1.5 3 1.4 3 1.5 3 1.5 3 1.5 3 1.5 3 1.6 3 1.6 3 1.6 3 1.6 3 1.6 3 1.6 3 1.6 3 1.6 3 1.7 3 1.6 3 1.6 3 1.6 3 1.6 3 1.6 3 1.6 3 1.5 3 1.6 3 1.6 3 1.5 3 1.6 3 1.6 3 1.5 3 1.5 3 1.6 3 1.5 3 1.5 3 1.5 3 1.5 3 1.5 3 1.5 3 1.4 3 1.5 3 1.4 3 1.4 3 1.4 3 1.4 3 1.4 3 1.3 3 1.4 3 1.3 3 1.3 3 1.2 3 1.3 3 1.2 3 1.2 3 1.1 3 1.2 3 1.1 3 1.1 3 1.1 3 1 3 1 3 1.1 3 1 3 0.9 3 1 3 0.9 3 1 3 0.9 3 0.9 3 0.8 3 0.9 3 0.8 3 0.8 3 0.8 3 0.8 3 0.8 3 0.7 3 0.7 3 0.7 3 0.7 3 0.7 3 0.7 3 0.6 3 0.6 3 0.6 3 0.6 3 0.6 3 0.6 3 0.6 3 0.5 3 0.5 3 0.5 3 0.4 3 0.5 3 0.4 3 0.3 3 0.4 3 0.3 3 0.4 3 0.3 3 0.3 3 0.2 3 0.3 3 0.3 3 0.2 3 0.3 3 0.2 3 0.2 3 0.2 3 0.3 3 0.2 3 0.2 3 0.2 3 0.2 3 0.1 3 0.2 3 0.2 3 0.1 3 0.2 3 0.1 3 0.1 3 0.1 3 0.1 3 0.1 3 0.2 3 0.1 3 0.1 3 0.1 3 0.1 3 0 3 0.1 3 0.1 3 0.1 3 0 3 0.1 3 0.1 3 0 3 0.1 3 0 3 0 3 0 3 0 3 0.1 3 0 3 0 3 0 3 0 3 0.1 3 0 3 0 3 0 3 0 3 0 3 0 3 0.1 3 0 3 0 3 0 3 0 3 0 3 0 3 0 3 0 3 0 0.2 0L1333.2 0L64 0Z"/>
<mask id="m_hcd575" maskUnits="userSpaceOnUse" x="0" y="-420" width="1345" height="430"><rect x="0" y="-420" width="1345" height="430" fill="#fff"/><use href="#f_hcd575" fill="#000" transform="translate(0,-1.6)"/></mask>
<mask id="mb_hcd575" maskUnits="userSpaceOnUse" x="0" y="-420" width="1345" height="430"><use href="#f_hcd575" fill="#fff" transform="translate(0,1.6)"/></mask>
<mask id="s_hcd575" maskUnits="userSpaceOnUse" x="0" y="-420" width="1345" height="430"><use href="#c_hcd575" fill="none" stroke="#fff" stroke-width="3.8"/></mask>
<path id="c_autism575" d="M64 -13.1l3 -0.5 3 -0.5 3 -0.6 3 -0.5 3 -0.6 3 -0.5 3 -0.6 3 -0.6 3 -0.6 3 -0.6 3 -0.7 3 -0.6 3 -0.7 3 -0.6 3 -0.7 3 -0.7 3 -0.7 3 -0.7 3 -0.7 3 -0.8 3 -0.7 3 -0.7 3 -0.8 3 -0.8 3 -0.8 3 -0.8 3 -0.8 3 -0.8 3 -0.8 3 -0.8 3 -0.8 3 -0.9 3 -0.8 3 -0.9 3 -0.9 3 -0.8 3 -0.9 3 -0.9 3 -0.9 3 -0.9 3 -0.9 3 -1 3 -0.9 3 -0.9 3 -1 3 -0.9 3 -1 3 -0.9 3 -1 3 -1 3 -0.9 3 -1 3 -1 3 -1 3 -1 3 -1 3 -1 3 -1 3 -1 3 -1.1 3 -1 3 -1 3 -1 3 -1.1 3 -1 3 -1 3 -1.1 3 -1 3 -1.1 3 -1 3 -1.1 3 -1 3 -1.1 3 -1.1 3 -1 3 -1.1 3 -1 3 -1.1 3 -1.1 3 -1 3 -1.1 3 -1.1 3 -1 3 -1.1 3 -1.1 3 -1 3 -1.1 3 -1.1 3 -1 3 -1.1 3 -1.1 3 -1 3 -1.1 3 -1 3 -1.1 3 -1.1 3 -1 3 -1.1 3 -1 3 -1.1 3 -1 3 -1.1 3 -1 3 -1.1 3 -1 3 -1.1 3 -1 3 -1.1 3 -1 3 -1.1 3 -1 3 -1.1 3 -1 3 -1.1 3 -1 3 -1.1 3 -1 3 -1.1 3 -1 3 -1 3 -1.1 3 -1 3 -1.1 3 -1 3 -1.1 3 -1 3 -1 3 -1.1 3 -1 3 -1.1 3 -1 3 -1.1 3 -1 3 -1.1 3 -1 3 -1 3 -1.1 3 -1 3 -1.1 3 -1 3 -1.1 3 -1 3 -1.1 3 -1 3 -1 3 -1.1 3 -1 3 -1 3 -1 3 -1 3 -1 3 -1 3 -1 3 -0.9 3 -0.9 3 -1 3 -0.9 3 -0.8 3 -0.9 3 -0.8 3 -0.8 3 -0.8 3 -0.8 3 -0.7 3 -0.7 3 -0.7 3 -0.6 3 -0.7 3 -0.5 3 -0.6 3 -0.5 3 -0.5 3 -0.4 3 -0.4 3 -0.4 3 -0.3 3 -0.3 3 -0.2 3 -0.2 3 -0.1 3 -0.1 3 0 3 0 3 0 3 0.1 3 0.2 3 0.2 3 0.3 3 0.3 3 0.3 3 0.4 3 0.4 3 0.5 3 0.5 3 0.5 3 0.6 3 0.5 3 0.6 3 0.7 3 0.6 3 0.7 3 0.7 3 0.7 3 0.8 3 0.8 3 0.7 3 0.9 3 0.8 3 0.8 3 0.9 3 0.9 3 0.9 3 1 3 0.9 3 1 3 1 3 1 3 1.1 3 1 3 1.1 3 1.1 3 1.1 3 1.1 3 1.2 3 1.1 3 1.2 3 1.1 3 1.2 3 1.2 3 1.1 3 1.2 3 1.2 3 1.2 3 1.2 3 1.2 3 1.2 3 1.2 3 1.1 3 1.2 3 1.2 3 1.1 3 1.2 3 1.2 3 1.1 3 1.2 3 1.1 3 1.1 3 1.2 3 1.1 3 1.1 3 1.1 3 1.1 3 1.1 3 1 3 1.1 3 1 3 1.1 3 1 3 1 3 1.1 3 1 3 1 3 1 3 1 3 1 3 1 3 1 3 1 3 1 3 1 3 1 3 1.1 3 1 3 1.1 3 1 3 1.1 3 1.1 3 1.1 3 1.1 3 1.2 3 1.2 3 1.1 3 1.2 3 1.2 3 1.3 3 1.2 3 1.2 3 1.2 3 1.3 3 1.2 3 1.3 3 1.2 3 1.2 3 1.2 3 1.3 3 1.2 3 1.2 3 1.1 3 1.2 3 1.1 3 1.2 3 1.1 3 1.1 3 1.1 3 1.1 3 1.1 3 1 3 1.1 3 1 3 1 3 1 3 1 3 1 3 0.9 3 1 3 0.9 3 0.9 3 0.9 3 0.9 3 0.9 3 0.9 3 0.8 3 0.9 3 0.8 3 0.9 3 0.8 3 0.8 3 0.8 3 0.7 3 0.8 3 0.8 3 0.7 3 0.7 3 0.7 3 0.8 3 0.6 3 0.7 3 0.7 3 0.7 3 0.6 3 0.7 3 0.6 3 0.6 3 0.6 3 0.6 3 0.6 3 0.6 3 0.6 3 0.5 3 0.6 3 0.5 3 0.5 3 0.6 3 0.5 3 0.5 3 0.5 3 0.4 3 0.5 3 0.5 3 0.4 3 0.5 3 0.4 3 0.4 3 0.4 3 0.5 3 0.4 3 0.3 3 0.4 3 0.4 3 0.3 3 0.4 3 0.3 3 0.4 3 0.3 3 0.3 3 0.3 3 0.3 3 0.3 3 0.3 3 0.2 3 0.3 3 0.3 3 0.2 3 0.3 3 0.3 3 0.2 3 0.3 3 0.2 3 0.3 3 0.2 3 0.2 3 0.2 3 0.3 3 0.2 3 0.2 3 0.1 3 0.2 3 0.2 3 0.1 3 0.2 3 0.1 3 0.1 3 0.2 3 0.1 3 0.1 3 0.1 3 0.2 3 0.1 3 0.1 3 0.1 3 0.1 3 0.1 3 0.1 3 0.1 3 0.1 3 0.1 3 0 3 0.1 3 0.1 3 0 3 0 3 0.1 3 0 0.2 0"/>
<path id="f_autism575" d="M64 -13.1l3 -0.5 3 -0.5 3 -0.6 3 -0.5 3 -0.6 3 -0.5 3 -0.6 3 -0.6 3 -0.6 3 -0.6 3 -0.7 3 -0.6 3 -0.7 3 -0.6 3 -0.7 3 -0.7 3 -0.7 3 -0.7 3 -0.7 3 -0.8 3 -0.7 3 -0.7 3 -0.8 3 -0.8 3 -0.8 3 -0.8 3 -0.8 3 -0.8 3 -0.8 3 -0.8 3 -0.8 3 -0.9 3 -0.8 3 -0.9 3 -0.9 3 -0.8 3 -0.9 3 -0.9 3 -0.9 3 -0.9 3 -0.9 3 -1 3 -0.9 3 -0.9 3 -1 3 -0.9 3 -1 3 -0.9 3 -1 3 -1 3 -0.9 3 -1 3 -1 3 -1 3 -1 3 -1 3 -1 3 -1 3 -1 3 -1.1 3 -1 3 -1 3 -1 3 -1.1 3 -1 3 -1 3 -1.1 3 -1 3 -1.1 3 -1 3 -1.1 3 -1 3 -1.1 3 -1.1 3 -1 3 -1.1 3 -1 3 -1.1 3 -1.1 3 -1 3 -1.1 3 -1.1 3 -1 3 -1.1 3 -1.1 3 -1 3 -1.1 3 -1.1 3 -1 3 -1.1 3 -1.1 3 -1 3 -1.1 3 -1 3 -1.1 3 -1.1 3 -1 3 -1.1 3 -1 3 -1.1 3 -1 3 -1.1 3 -1 3 -1.1 3 -1 3 -1.1 3 -1 3 -1.1 3 -1 3 -1.1 3 -1 3 -1.1 3 -1 3 -1.1 3 -1 3 -1.1 3 -1 3 -1.1 3 -1 3 -1 3 -1.1 3 -1 3 -1.1 3 -1 3 -1.1 3 -1 3 -1 3 -1.1 3 -1 3 -1.1 3 -1 3 -1.1 3 -1 3 -1.1 3 -1 3 -1 3 -1.1 3 -1 3 -1.1 3 -1 3 -1.1 3 -1 3 -1.1 3 -1 3 -1 3 -1.1 3 -1 3 -1 3 -1 3 -1 3 -1 3 -1 3 -1 3 -0.9 3 -0.9 3 -1 3 -0.9 3 -0.8 3 -0.9 3 -0.8 3 -0.8 3 -0.8 3 -0.8 3 -0.7 3 -0.7 3 -0.7 3 -0.6 3 -0.7 3 -0.5 3 -0.6 3 -0.5 3 -0.5 3 -0.4 3 -0.4 3 -0.4 3 -0.3 3 -0.3 3 -0.2 3 -0.2 3 -0.1 3 -0.1 3 0 3 0 3 0 3 0.1 3 0.2 3 0.2 3 0.3 3 0.3 3 0.3 3 0.4 3 0.4 3 0.5 3 0.5 3 0.5 3 0.6 3 0.5 3 0.6 3 0.7 3 0.6 3 0.7 3 0.7 3 0.7 3 0.8 3 0.8 3 0.7 3 0.9 3 0.8 3 0.8 3 0.9 3 0.9 3 0.9 3 1 3 0.9 3 1 3 1 3 1 3 1.1 3 1 3 1.1 3 1.1 3 1.1 3 1.1 3 1.2 3 1.1 3 1.2 3 1.1 3 1.2 3 1.2 3 1.1 3 1.2 3 1.2 3 1.2 3 1.2 3 1.2 3 1.2 3 1.2 3 1.1 3 1.2 3 1.2 3 1.1 3 1.2 3 1.2 3 1.1 3 1.2 3 1.1 3 1.1 3 1.2 3 1.1 3 1.1 3 1.1 3 1.1 3 1.1 3 1 3 1.1 3 1 3 1.1 3 1 3 1 3 1.1 3 1 3 1 3 1 3 1 3 1 3 1 3 1 3 1 3 1 3 1 3 1 3 1.1 3 1 3 1.1 3 1 3 1.1 3 1.1 3 1.1 3 1.1 3 1.2 3 1.2 3 1.1 3 1.2 3 1.2 3 1.3 3 1.2 3 1.2 3 1.2 3 1.3 3 1.2 3 1.3 3 1.2 3 1.2 3 1.2 3 1.3 3 1.2 3 1.2 3 1.1 3 1.2 3 1.1 3 1.2 3 1.1 3 1.1 3 1.1 3 1.1 3 1.1 3 1 3 1.1 3 1 3 1 3 1 3 1 3 1 3 0.9 3 1 3 0.9 3 0.9 3 0.9 3 0.9 3 0.9 3 0.9 3 0.8 3 0.9 3 0.8 3 0.9 3 0.8 3 0.8 3 0.8 3 0.7 3 0.8 3 0.8 3 0.7 3 0.7 3 0.7 3 0.8 3 0.6 3 0.7 3 0.7 3 0.7 3 0.6 3 0.7 3 0.6 3 0.6 3 0.6 3 0.6 3 0.6 3 0.6 3 0.6 3 0.5 3 0.6 3 0.5 3 0.5 3 0.6 3 0.5 3 0.5 3 0.5 3 0.4 3 0.5 3 0.5 3 0.4 3 0.5 3 0.4 3 0.4 3 0.4 3 0.5 3 0.4 3 0.3 3 0.4 3 0.4 3 0.3 3 0.4 3 0.3 3 0.4 3 0.3 3 0.3 3 0.3 3 0.3 3 0.3 3 0.3 3 0.2 3 0.3 3 0.3 3 0.2 3 0.3 3 0.3 3 0.2 3 0.3 3 0.2 3 0.3 3 0.2 3 0.2 3 0.2 3 0.3 3 0.2 3 0.2 3 0.1 3 0.2 3 0.2 3 0.1 3 0.2 3 0.1 3 0.1 3 0.2 3 0.1 3 0.1 3 0.1 3 0.2 3 0.1 3 0.1 3 0.1 3 0.1 3 0.1 3 0.1 3 0.1 3 0.1 3 0.1 3 0 3 0.1 3 0.1 3 0 3 0 3 0.1 3 0 0.2 0L1333.2 0L64 0Z"/>
<mask id="m_autism575" maskUnits="userSpaceOnUse" x="0" y="-420" width="1345" height="430"><rect x="0" y="-420" width="1345" height="430" fill="#fff"/><use href="#f_autism575" fill="#000" transform="translate(0,-1.6)"/></mask>
<mask id="mb_autism575" maskUnits="userSpaceOnUse" x="0" y="-420" width="1345" height="430"><use href="#f_autism575" fill="#fff" transform="translate(0,1.6)"/></mask>
<mask id="s_autism575" maskUnits="userSpaceOnUse" x="0" y="-420" width="1345" height="430"><use href="#c_autism575" fill="none" stroke="#fff" stroke-width="3.8"/></mask>
<path id="c_hce545" d="M64 -7.1l3 -0.3 3 -0.2 3 -0.2 3 -0.3 3 -0.2 3 -0.2 3 -0.3 3 -0.2 3 -0.2 3 -0.3 3 -0.2 3 -0.2 3 -0.2 3 -0.3 3 -0.2 3 -0.2 3 -0.3 3 -0.2 3 -0.3 3 -0.2 3 -0.3 3 -0.2 3 -0.3 3 -0.3 3 -0.2 3 -0.3 3 -0.3 3 -0.3 3 -0.2 3 -0.3 3 -0.4 3 -0.3 3 -0.3 3 -0.3 3 -0.4 3 -0.3 3 -0.4 3 -0.4 3 -0.4 3 -0.4 3 -0.4 3 -0.4 3 -0.5 3 -0.5 3 -0.4 3 -0.5 3 -0.5 3 -0.6 3 -0.5 3 -0.6 3 -0.6 3 -0.6 3 -0.6 3 -0.6 3 -0.7 3 -0.7 3 -0.7 3 -0.7 3 -0.7 3 -0.8 3 -0.8 3 -0.8 3 -0.9 3 -0.8 3 -0.9 3 -1 3 -1 3 -1 3 -1 3 -1.1 3 -1.2 3 -1.2 3 -1.2 3 -1.3 3 -1.4 3 -1.4 3 -1.4 3 -1.6 3 -1.5 3 -1.6 3 -1.7 3 -1.6 3 -1.7 3 -1.7 3 -1.8 3 -1.7 3 -1.8 3 -1.7 3 -1.7 3 -1.8 3 -1.7 3 -1.7 3 -1.7 3 -1.7 3 -1.6 3 -1.7 3 -1.6 3 -1.6 3 -1.7 3 -1.6 3 -1.6 3 -1.6 3 -1.6 3 -1.5 3 -1.6 3 -1.6 3 -1.6 3 -1.5 3 -1.6 3 -1.6 3 -1.5 3 -1.6 3 -1.6 3 -1.6 3 -1.5 3 -1.6 3 -1.6 3 -1.6 3 -1.6 3 -1.6 3 -1.6 3 -1.7 3 -1.6 3 -1.6 3 -1.7 3 -1.7 3 -1.6 3 -1.7 3 -1.7 3 -1.7 3 -1.7 3 -1.7 3 -1.7 3 -1.7 3 -1.7 3 -1.7 3 -1.7 3 -1.8 3 -1.7 3 -1.7 3 -1.7 3 -1.8 3 -1.7 3 -1.7 3 -1.7 3 -1.7 3 -1.7 3 -1.8 3 -1.7 3 -1.7 3 -1.7 3 -1.6 3 -1.7 3 -1.7 3 -1.7 3 -1.6 3 -1.7 3 -1.6 3 -1.7 3 -1.6 3 -1.6 3 -1.6 3 -1.6 3 -1.5 3 -1.6 3 -1.6 3 -1.5 3 -1.5 3 -1.5 3 -1.5 3 -1.5 3 -1.4 3 -1.4 3 -1.3 3 -1.3 3 -1.3 3 -1.2 3 -1.2 3 -1.1 3 -1 3 -0.9 3 -0.9 3 -0.8 3 -0.7 3 -0.6 3 -0.6 3 -0.4 3 -0.3 3 -0.2 3 -0.1 3 0 3 0.1 3 0.2 3 0.4 3 0.4 3 0.5 3 0.7 3 0.7 3 0.9 3 1 3 1 3 1.2 3 1.2 3 1.4 3 1.4 3 1.5 3 1.6 3 1.7 3 1.7 3 1.8 3 1.8 3 1.9 3 1.9 3 2 3 1.9 3 2 3 2.1 3 2 3 2 3 2 3 2.1 3 2 3 1.9 3 2 3 2 3 1.9 3 1.9 3 2 3 1.9 3 1.9 3 1.9 3 1.8 3 1.9 3 1.9 3 1.9 3 1.9 3 1.9 3 1.9 3 1.9 3 1.9 3 1.9 3 1.9 3 1.9 3 2 3 2 3 1.9 3 2 3 2.1 3 2 3 2 3 2.1 3 2.1 3 2.1 3 2.2 3 2.1 3 2.1 3 2.2 3 2.1 3 2.1 3 2.2 3 2.1 3 2.1 3 2.1 3 2.1 3 2.1 3 2 3 2 3 2 3 2 3 2 3 1.9 3 1.9 3 1.9 3 1.8 3 1.8 3 1.8 3 1.8 3 1.8 3 1.7 3 1.7 3 1.7 3 1.6 3 1.6 3 1.6 3 1.5 3 1.6 3 1.4 3 1.5 3 1.4 3 1.4 3 1.4 3 1.3 3 1.3 3 1.3 3 1.2 3 1.2 3 1.2 3 1.1 3 1.1 3 1.1 3 1 3 1 3 1 3 0.9 3 0.9 3 0.9 3 0.9 3 0.8 3 0.8 3 0.8 3 0.8 3 0.7 3 0.7 3 0.7 3 0.6 3 0.7 3 0.6 3 0.6 3 0.6 3 0.5 3 0.6 3 0.5 3 0.5 3 0.5 3 0.5 3 0.4 3 0.5 3 0.4 3 0.4 3 0.4 3 0.4 3 0.4 3 0.3 3 0.4 3 0.3 3 0.4 3 0.3 3 0.3 3 0.4 3 0.3 3 0.4 3 0.3 3 0.3 3 0.3 3 0.3 3 0.3 3 0.2 3 0.3 3 0.3 3 0.2 3 0.3 3 0.2 3 0.2 3 0.2 3 0.3 3 0.2 3 0.2 3 0.2 3 0.2 3 0.2 3 0.2 3 0.2 3 0.2 3 0.1 3 0.2 3 0.2 3 0.2 3 0.1 3 0.2 3 0.2 3 0.1 3 0.2 3 0.1 3 0.2 3 0.1 3 0.2 3 0.1 3 0.1 3 0.1 3 0.2 3 0.1 3 0.1 3 0.1 3 0.2 3 0.1 3 0.1 3 0.1 3 0.1 3 0.1 3 0.1 3 0.1 3 0.1 3 0.1 3 0.1 3 0.1 3 0.1 3 0 3 0.1 3 0 3 0.1 3 0 3 0 3 0.1 3 0 3 0.1 3 0 3 0.1 3 0 3 0 3 0.1 3 0 3 0 3 0.1 3 0 3 0 3 0 3 0 3 0.1 3 0 3 0 3 0 3 0 3 0 0.2 0"/>
<path id="f_hce545" d="M64 -7.1l3 -0.3 3 -0.2 3 -0.2 3 -0.3 3 -0.2 3 -0.2 3 -0.3 3 -0.2 3 -0.2 3 -0.3 3 -0.2 3 -0.2 3 -0.2 3 -0.3 3 -0.2 3 -0.2 3 -0.3 3 -0.2 3 -0.3 3 -0.2 3 -0.3 3 -0.2 3 -0.3 3 -0.3 3 -0.2 3 -0.3 3 -0.3 3 -0.3 3 -0.2 3 -0.3 3 -0.4 3 -0.3 3 -0.3 3 -0.3 3 -0.4 3 -0.3 3 -0.4 3 -0.4 3 -0.4 3 -0.4 3 -0.4 3 -0.4 3 -0.5 3 -0.5 3 -0.4 3 -0.5 3 -0.5 3 -0.6 3 -0.5 3 -0.6 3 -0.6 3 -0.6 3 -0.6 3 -0.6 3 -0.7 3 -0.7 3 -0.7 3 -0.7 3 -0.7 3 -0.8 3 -0.8 3 -0.8 3 -0.9 3 -0.8 3 -0.9 3 -1 3 -1 3 -1 3 -1 3 -1.1 3 -1.2 3 -1.2 3 -1.2 3 -1.3 3 -1.4 3 -1.4 3 -1.4 3 -1.6 3 -1.5 3 -1.6 3 -1.7 3 -1.6 3 -1.7 3 -1.7 3 -1.8 3 -1.7 3 -1.8 3 -1.7 3 -1.7 3 -1.8 3 -1.7 3 -1.7 3 -1.7 3 -1.7 3 -1.6 3 -1.7 3 -1.6 3 -1.6 3 -1.7 3 -1.6 3 -1.6 3 -1.6 3 -1.6 3 -1.5 3 -1.6 3 -1.6 3 -1.6 3 -1.5 3 -1.6 3 -1.6 3 -1.5 3 -1.6 3 -1.6 3 -1.6 3 -1.5 3 -1.6 3 -1.6 3 -1.6 3 -1.6 3 -1.6 3 -1.6 3 -1.7 3 -1.6 3 -1.6 3 -1.7 3 -1.7 3 -1.6 3 -1.7 3 -1.7 3 -1.7 3 -1.7 3 -1.7 3 -1.7 3 -1.7 3 -1.7 3 -1.7 3 -1.7 3 -1.8 3 -1.7 3 -1.7 3 -1.7 3 -1.8 3 -1.7 3 -1.7 3 -1.7 3 -1.7 3 -1.7 3 -1.8 3 -1.7 3 -1.7 3 -1.7 3 -1.6 3 -1.7 3 -1.7 3 -1.7 3 -1.6 3 -1.7 3 -1.6 3 -1.7 3 -1.6 3 -1.6 3 -1.6 3 -1.6 3 -1.5 3 -1.6 3 -1.6 3 -1.5 3 -1.5 3 -1.5 3 -1.5 3 -1.5 3 -1.4 3 -1.4 3 -1.3 3 -1.3 3 -1.3 3 -1.2 3 -1.2 3 -1.1 3 -1 3 -0.9 3 -0.9 3 -0.8 3 -0.7 3 -0.6 3 -0.6 3 -0.4 3 -0.3 3 -0.2 3 -0.1 3 0 3 0.1 3 0.2 3 0.4 3 0.4 3 0.5 3 0.7 3 0.7 3 0.9 3 1 3 1 3 1.2 3 1.2 3 1.4 3 1.4 3 1.5 3 1.6 3 1.7 3 1.7 3 1.8 3 1.8 3 1.9 3 1.9 3 2 3 1.9 3 2 3 2.1 3 2 3 2 3 2 3 2.1 3 2 3 1.9 3 2 3 2 3 1.9 3 1.9 3 2 3 1.9 3 1.9 3 1.9 3 1.8 3 1.9 3 1.9 3 1.9 3 1.9 3 1.9 3 1.9 3 1.9 3 1.9 3 1.9 3 1.9 3 1.9 3 2 3 2 3 1.9 3 2 3 2.1 3 2 3 2 3 2.1 3 2.1 3 2.1 3 2.2 3 2.1 3 2.1 3 2.2 3 2.1 3 2.1 3 2.2 3 2.1 3 2.1 3 2.1 3 2.1 3 2.1 3 2 3 2 3 2 3 2 3 2 3 1.9 3 1.9 3 1.9 3 1.8 3 1.8 3 1.8 3 1.8 3 1.8 3 1.7 3 1.7 3 1.7 3 1.6 3 1.6 3 1.6 3 1.5 3 1.6 3 1.4 3 1.5 3 1.4 3 1.4 3 1.4 3 1.3 3 1.3 3 1.3 3 1.2 3 1.2 3 1.2 3 1.1 3 1.1 3 1.1 3 1 3 1 3 1 3 0.9 3 0.9 3 0.9 3 0.9 3 0.8 3 0.8 3 0.8 3 0.8 3 0.7 3 0.7 3 0.7 3 0.6 3 0.7 3 0.6 3 0.6 3 0.6 3 0.5 3 0.6 3 0.5 3 0.5 3 0.5 3 0.5 3 0.4 3 0.5 3 0.4 3 0.4 3 0.4 3 0.4 3 0.4 3 0.3 3 0.4 3 0.3 3 0.4 3 0.3 3 0.3 3 0.4 3 0.3 3 0.4 3 0.3 3 0.3 3 0.3 3 0.3 3 0.3 3 0.2 3 0.3 3 0.3 3 0.2 3 0.3 3 0.2 3 0.2 3 0.2 3 0.3 3 0.2 3 0.2 3 0.2 3 0.2 3 0.2 3 0.2 3 0.2 3 0.2 3 0.1 3 0.2 3 0.2 3 0.2 3 0.1 3 0.2 3 0.2 3 0.1 3 0.2 3 0.1 3 0.2 3 0.1 3 0.2 3 0.1 3 0.1 3 0.1 3 0.2 3 0.1 3 0.1 3 0.1 3 0.2 3 0.1 3 0.1 3 0.1 3 0.1 3 0.1 3 0.1 3 0.1 3 0.1 3 0.1 3 0.1 3 0.1 3 0.1 3 0 3 0.1 3 0 3 0.1 3 0 3 0 3 0.1 3 0 3 0.1 3 0 3 0.1 3 0 3 0 3 0.1 3 0 3 0 3 0.1 3 0 3 0 3 0 3 0 3 0.1 3 0 3 0 3 0 3 0 3 0 0.2 0L1333.2 0L64 0Z"/>
<mask id="m_hce545" maskUnits="userSpaceOnUse" x="0" y="-420" width="1345" height="430"><rect x="0" y="-420" width="1345" height="430" fill="#fff"/><use href="#f_hce545" fill="#000" transform="translate(0,-1.6)"/></mask>
<mask id="mb_hce545" maskUnits="userSpaceOnUse" x="0" y="-420" width="1345" height="430"><use href="#f_hce545" fill="#fff" transform="translate(0,1.6)"/></mask>
<mask id="s_hce545" maskUnits="userSpaceOnUse" x="0" y="-420" width="1345" height="430"><use href="#c_hce545" fill="none" stroke="#fff" stroke-width="3.8"/></mask>
<path id="c_schizo545" d="M64 -1.5l3 -0.1 3 -0.2 3 -0.3 3 -0.2 3 -0.4 3 -0.3 3 -0.4 3 -0.3 3 -0.4 3 -0.6 3 -0.5 3 -0.7 3 -0.7 3 -0.7 3 -0.8 3 -0.8 3 -0.8 3 -0.8 3 -0.7 3 -0.8 3 -0.8 3 -0.8 3 -0.9 3 -0.8 3 -0.8 3 -0.9 3 -0.9 3 -0.8 3 -0.9 3 -0.9 3 -0.9 3 -1 3 -0.9 3 -0.9 3 -1 3 -0.9 3 -0.9 3 -1 3 -0.9 3 -1 3 -0.9 3 -1 3 -1 3 -0.9 3 -1 3 -0.9 3 -0.9 3 -1 3 -0.9 3 -0.9 3 -0.9 3 -0.9 3 -0.9 3 -0.9 3 -0.9 3 -0.9 3 -0.8 3 -0.9 3 -0.8 3 -0.8 3 -0.8 3 -0.7 3 -0.8 3 -0.8 3 -0.7 3 -0.7 3 -0.7 3 -0.8 3 -0.7 3 -0.7 3 -0.7 3 -0.7 3 -0.7 3 -0.7 3 -0.8 3 -0.7 3 -0.8 3 -0.7 3 -0.8 3 -0.8 3 -0.9 3 -0.8 3 -0.9 3 -0.9 3 -0.9 3 -1 3 -0.9 3 -1.1 3 -1 3 -1.1 3 -1.1 3 -1.2 3 -1.2 3 -1.3 3 -1.3 3 -1.3 3 -1.3 3 -1.4 3 -1.4 3 -1.4 3 -1.5 3 -1.5 3 -1.5 3 -1.5 3 -1.6 3 -1.5 3 -1.6 3 -1.6 3 -1.6 3 -1.7 3 -1.6 3 -1.6 3 -1.7 3 -1.7 3 -1.6 3 -1.7 3 -1.7 3 -1.6 3 -1.7 3 -1.7 3 -1.6 3 -1.7 3 -1.6 3 -1.7 3 -1.6 3 -1.6 3 -1.6 3 -1.7 3 -1.6 3 -1.6 3 -1.6 3 -1.6 3 -1.6 3 -1.7 3 -1.6 3 -1.6 3 -1.6 3 -1.6 3 -1.7 3 -1.6 3 -1.7 3 -1.6 3 -1.7 3 -1.6 3 -1.7 3 -1.7 3 -1.7 3 -1.7 3 -1.7 3 -1.7 3 -1.8 3 -1.7 3 -1.8 3 -1.8 3 -1.8 3 -1.8 3 -1.9 3 -1.8 3 -1.8 3 -1.8 3 -1.8 3 -1.8 3 -1.7 3 -1.6 3 -1.6 3 -1.5 3 -1.4 3 -1.4 3 -1.2 3 -1.2 3 -1 3 -1 3 -0.8 3 -0.8 3 -0.7 3 -0.7 3 -0.5 3 -0.5 3 -0.4 3 -0.4 3 -0.2 3 -0.3 3 -0.1 3 -0.2 3 0 3 -0.1 3 0 3 0.1 3 0.1 3 0.1 3 0.2 3 0.2 3 0.3 3 0.3 3 0.3 3 0.4 3 0.4 3 0.5 3 0.5 3 0.5 3 0.6 3 0.6 3 0.7 3 0.6 3 0.8 3 0.7 3 0.8 3 0.8 3 0.9 3 0.9 3 0.9 3 0.9 3 1 3 1.1 3 1 3 1.1 3 1.1 3 1.2 3 1.1 3 1.3 3 1.2 3 1.3 3 1.3 3 1.3 3 1.4 3 1.4 3 1.4 3 1.5 3 1.5 3 1.5 3 1.6 3 1.6 3 1.7 3 1.7 3 1.7 3 1.8 3 1.9 3 1.8 3 2 3 1.9 3 2.1 3 2 3 2.2 3 2.1 3 2.3 3 2.3 3 2.3 3 2.4 3 2.5 3 2.5 3 2.6 3 2.6 3 2.7 3 2.7 3 2.8 3 2.9 3 2.9 3 2.9 3 3 3 3 3 3 3 3 3 3 3 2.9 3 2.8 3 2.8 3 2.7 3 2.6 3 2.6 3 2.5 3 2.4 3 2.4 3 2.3 3 2.2 3 2.2 3 2.1 3 2.1 3 2.1 3 1.9 3 2 3 1.9 3 1.8 3 1.9 3 1.7 3 1.7 3 1.7 3 1.6 3 1.6 3 1.5 3 1.5 3 1.5 3 1.3 3 1.4 3 1.3 3 1.2 3 1.2 3 1.1 3 1.1 3 1.1 3 1 3 0.9 3 0.9 3 0.9 3 0.9 3 0.7 3 0.8 3 0.7 3 0.7 3 0.6 3 0.6 3 0.6 3 0.6 3 0.5 3 0.5 3 0.4 3 0.5 3 0.4 3 0.3 3 0.4 3 0.3 3 0.4 3 0.2 3 0.3 3 0.3 3 0.2 3 0.2 3 0.2 3 0.2 3 0.1 3 0.2 3 0.1 3 0.2 3 0.1 3 0.1 3 0.1 3 0.2 3 0.1 3 0.1 3 0.1 3 0.1 3 0.2 3 0.1 3 0.2 3 0.1 3 0.2 3 0.3 3 0.2 3 0.2 3 0.3 3 0.3 3 0.2 3 0.3 3 0.3 3 0.2 3 0.2 3 0.2 3 0.2 3 0.2 3 0.2 3 0.1 3 0.2 3 0.2 3 0.1 3 0.2 3 0.1 3 0.1 3 0.1 3 0.1 3 0.2 3 0.1 3 0.1 3 0.1 3 0.1 3 0.1 3 0.1 3 0.1 3 0 3 0.1 3 0.1 3 0.1 3 0.1 3 0.1 3 0.1 3 0.1 3 0.1 3 0.1 3 0 3 0.1 3 0.1 3 0.1 3 0.1 3 0 3 0.1 3 0.1 3 0 3 0.1 3 0 3 0.1 3 0 3 0.1 3 0 3 0 3 0.1 3 0 3 0.1 3 0 3 0 3 0.1 3 0 3 0 3 0.1 3 0 3 0 3 0.1 3 0 3 0 3 0 3 0 3 0.1 3 0 3 0 3 0 3 0 0.2 0"/>
<path id="f_schizo545" d="M64 -1.5l3 -0.1 3 -0.2 3 -0.3 3 -0.2 3 -0.4 3 -0.3 3 -0.4 3 -0.3 3 -0.4 3 -0.6 3 -0.5 3 -0.7 3 -0.7 3 -0.7 3 -0.8 3 -0.8 3 -0.8 3 -0.8 3 -0.7 3 -0.8 3 -0.8 3 -0.8 3 -0.9 3 -0.8 3 -0.8 3 -0.9 3 -0.9 3 -0.8 3 -0.9 3 -0.9 3 -0.9 3 -1 3 -0.9 3 -0.9 3 -1 3 -0.9 3 -0.9 3 -1 3 -0.9 3 -1 3 -0.9 3 -1 3 -1 3 -0.9 3 -1 3 -0.9 3 -0.9 3 -1 3 -0.9 3 -0.9 3 -0.9 3 -0.9 3 -0.9 3 -0.9 3 -0.9 3 -0.9 3 -0.8 3 -0.9 3 -0.8 3 -0.8 3 -0.8 3 -0.7 3 -0.8 3 -0.8 3 -0.7 3 -0.7 3 -0.7 3 -0.8 3 -0.7 3 -0.7 3 -0.7 3 -0.7 3 -0.7 3 -0.7 3 -0.8 3 -0.7 3 -0.8 3 -0.7 3 -0.8 3 -0.8 3 -0.9 3 -0.8 3 -0.9 3 -0.9 3 -0.9 3 -1 3 -0.9 3 -1.1 3 -1 3 -1.1 3 -1.1 3 -1.2 3 -1.2 3 -1.3 3 -1.3 3 -1.3 3 -1.3 3 -1.4 3 -1.4 3 -1.4 3 -1.5 3 -1.5 3 -1.5 3 -1.5 3 -1.6 3 -1.5 3 -1.6 3 -1.6 3 -1.6 3 -1.7 3 -1.6 3 -1.6 3 -1.7 3 -1.7 3 -1.6 3 -1.7 3 -1.7 3 -1.6 3 -1.7 3 -1.7 3 -1.6 3 -1.7 3 -1.6 3 -1.7 3 -1.6 3 -1.6 3 -1.6 3 -1.7 3 -1.6 3 -1.6 3 -1.6 3 -1.6 3 -1.6 3 -1.7 3 -1.6 3 -1.6 3 -1.6 3 -1.6 3 -1.7 3 -1.6 3 -1.7 3 -1.6 3 -1.7 3 -1.6 3 -1.7 3 -1.7 3 -1.7 3 -1.7 3 -1.7 3 -1.7 3 -1.8 3 -1.7 3 -1.8 3 -1.8 3 -1.8 3 -1.8 3 -1.9 3 -1.8 3 -1.8 3 -1.8 3 -1.8 3 -1.8 3 -1.7 3 -1.6 3 -1.6 3 -1.5 3 -1.4 3 -1.4 3 -1.2 3 -1.2 3 -1 3 -1 3 -0.8 3 -0.8 3 -0.7 3 -0.7 3 -0.5 3 -0.5 3 -0.4 3 -0.4 3 -0.2 3 -0.3 3 -0.1 3 -0.2 3 0 3 -0.1 3 0 3 0.1 3 0.1 3 0.1 3 0.2 3 0.2 3 0.3 3 0.3 3 0.3 3 0.4 3 0.4 3 0.5 3 0.5 3 0.5 3 0.6 3 0.6 3 0.7 3 0.6 3 0.8 3 0.7 3 0.8 3 0.8 3 0.9 3 0.9 3 0.9 3 0.9 3 1 3 1.1 3 1 3 1.1 3 1.1 3 1.2 3 1.1 3 1.3 3 1.2 3 1.3 3 1.3 3 1.3 3 1.4 3 1.4 3 1.4 3 1.5 3 1.5 3 1.5 3 1.6 3 1.6 3 1.7 3 1.7 3 1.7 3 1.8 3 1.9 3 1.8 3 2 3 1.9 3 2.1 3 2 3 2.2 3 2.1 3 2.3 3 2.3 3 2.3 3 2.4 3 2.5 3 2.5 3 2.6 3 2.6 3 2.7 3 2.7 3 2.8 3 2.9 3 2.9 3 2.9 3 3 3 3 3 3 3 3 3 3 3 2.9 3 2.8 3 2.8 3 2.7 3 2.6 3 2.6 3 2.5 3 2.4 3 2.4 3 2.3 3 2.2 3 2.2 3 2.1 3 2.1 3 2.1 3 1.9 3 2 3 1.9 3 1.8 3 1.9 3 1.7 3 1.7 3 1.7 3 1.6 3 1.6 3 1.5 3 1.5 3 1.5 3 1.3 3 1.4 3 1.3 3 1.2 3 1.2 3 1.1 3 1.1 3 1.1 3 1 3 0.9 3 0.9 3 0.9 3 0.9 3 0.7 3 0.8 3 0.7 3 0.7 3 0.6 3 0.6 3 0.6 3 0.6 3 0.5 3 0.5 3 0.4 3 0.5 3 0.4 3 0.3 3 0.4 3 0.3 3 0.4 3 0.2 3 0.3 3 0.3 3 0.2 3 0.2 3 0.2 3 0.2 3 0.1 3 0.2 3 0.1 3 0.2 3 0.1 3 0.1 3 0.1 3 0.2 3 0.1 3 0.1 3 0.1 3 0.1 3 0.2 3 0.1 3 0.2 3 0.1 3 0.2 3 0.3 3 0.2 3 0.2 3 0.3 3 0.3 3 0.2 3 0.3 3 0.3 3 0.2 3 0.2 3 0.2 3 0.2 3 0.2 3 0.2 3 0.1 3 0.2 3 0.2 3 0.1 3 0.2 3 0.1 3 0.1 3 0.1 3 0.1 3 0.2 3 0.1 3 0.1 3 0.1 3 0.1 3 0.1 3 0.1 3 0.1 3 0 3 0.1 3 0.1 3 0.1 3 0.1 3 0.1 3 0.1 3 0.1 3 0.1 3 0.1 3 0 3 0.1 3 0.1 3 0.1 3 0.1 3 0 3 0.1 3 0.1 3 0 3 0.1 3 0 3 0.1 3 0 3 0.1 3 0 3 0 3 0.1 3 0 3 0.1 3 0 3 0 3 0.1 3 0 3 0 3 0.1 3 0 3 0 3 0.1 3 0 3 0 3 0 3 0 3 0.1 3 0 3 0 3 0 3 0 0.2 0L1333.2 0L64 0Z"/>
<mask id="m_schizo545" maskUnits="userSpaceOnUse" x="0" y="-420" width="1345" height="430"><rect x="0" y="-420" width="1345" height="430" fill="#fff"/><use href="#f_schizo545" fill="#000" transform="translate(0,-1.6)"/></mask>
<mask id="mb_schizo545" maskUnits="userSpaceOnUse" x="0" y="-420" width="1345" height="430"><use href="#f_schizo545" fill="#fff" transform="translate(0,1.6)"/></mask>
<mask id="s_schizo545" maskUnits="userSpaceOnUse" x="0" y="-420" width="1345" height="430"><use href="#c_schizo545" fill="none" stroke="#fff" stroke-width="3.8"/></mask>
<path id="c_mel545" d="M64 0l3 0 3 0 3 0 3 0 3 0 3 0 3 0 3 0 3 0 3 0 3 0 3 0 3 0 3 0 3 0 3 0 3 0 3 0 3 0 3 0 3 0 3 0 3 0 3 0 3 0 3 0 3 0 3 0 3 0 3 0 3 0 3 0 3 0 3 0 3 0 3 0 3 0 3 0 3 0 3 0 3 0 3 0 3 0 3 0 3 0 3 0 3 0 3 0 3 0 3 0 3 0 3 0 3 0 3 0 3 0 3 0 3 0 3 0 3 0 3 0 3 0 3 0 3 0 3 0 3 0 3 0 3 0 3 0 3 0 3 0 3 0 3 0 3 0 3 0 3 0 3 0 3 0 3 0 3 0 3 0 3 0 3 0 3 0 3 0 3 0 3 0 3 0 3 0 3 -0.1 3 0 3 0 3 0 3 0 3 0 3 0 3 0 3 -0.1 3 0 3 0 3 0 3 0 3 -0.1 3 0 3 0 3 -0.1 3 0 3 0 3 -0.1 3 0 3 -0.1 3 0 3 -0.1 3 0 3 -0.1 3 0 3 -0.1 3 -0.1 3 0 3 -0.1 3 -0.1 3 -0.1 3 -0.1 3 -0.1 3 -0.1 3 -0.1 3 -0.2 3 -0.1 3 -0.1 3 -0.2 3 -0.2 3 -0.2 3 -0.2 3 -0.3 3 -0.3 3 -0.3 3 -0.4 3 -0.3 3 -0.3 3 -0.4 3 -0.3 3 -0.4 3 -0.4 3 -0.4 3 -0.4 3 -0.5 3 -0.5 3 -0.5 3 -0.5 3 -0.6 3 -0.6 3 -0.6 3 -0.7 3 -0.7 3 -0.8 3 -0.7 3 -0.8 3 -0.9 3 -0.8 3 -0.9 3 -0.9 3 -1 3 -1 3 -1 3 -1 3 -1.1 3 -1.1 3 -1.2 3 -1.2 3 -1.2 3 -1.3 3 -1.3 3 -1.4 3 -1.4 3 -1.4 3 -1.5 3 -1.5 3 -1.6 3 -1.6 3 -1.6 3 -1.7 3 -1.7 3 -1.8 3 -1.8 3 -1.8 3 -1.9 3 -1.9 3 -2 3 -2 3 -2 3 -2.1 3 -2.1 3 -2.1 3 -2.2 3 -2.2 3 -2.2 3 -2.3 3 -2.3 3 -2.3 3 -2.4 3 -2.4 3 -2.4 3 -2.4 3 -2.5 3 -2.5 3 -2.5 3 -2.5 3 -2.5 3 -2.6 3 -2.5 3 -2.6 3 -2.5 3 -2.6 3 -2.6 3 -2.6 3 -2.5 3 -2.6 3 -2.5 3 -2.6 3 -2.5 3 -2.5 3 -2.5 3 -2.5 3 -2.5 3 -2.4 3 -2.4 3 -2.3 3 -2.4 3 -2.3 3 -2.3 3 -2.2 3 -2.2 3 -2.1 3 -2.1 3 -2 3 -2 3 -2 3 -1.8 3 -1.9 3 -1.7 3 -1.7 3 -1.6 3 -1.6 3 -1.5 3 -1.4 3 -1.3 3 -1.3 3 -1.2 3 -1.2 3 -1 3 -1 3 -1 3 -0.8 3 -0.8 3 -0.7 3 -0.7 3 -0.6 3 -0.5 3 -0.4 3 -0.4 3 -0.3 3 -0.2 3 -0.2 3 -0.1 3 0 3 0 3 0.1 3 0.2 3 0.2 3 0.3 3 0.4 3 0.4 3 0.5 3 0.5 3 0.5 3 0.7 3 0.6 3 0.7 3 0.8 3 0.8 3 0.8 3 0.9 3 0.9 3 1 3 1 3 1 3 1 3 1.1 3 1.1 3 1.1 3 1.2 3 1.1 3 1.2 3 1.2 3 1.2 3 1.2 3 1.2 3 1.3 3 1.2 3 1.3 3 1.2 3 1.3 3 1.3 3 1.3 3 1.3 3 1.3 3 1.3 3 1.3 3 1.3 3 1.3 3 1.3 3 1.3 3 1.3 3 1.3 3 1.3 3 1.3 3 1.3 3 1.3 3 1.3 3 1.3 3 1.3 3 1.2 3 1.3 3 1.3 3 1.2 3 1.3 3 1.2 3 1.2 3 1.3 3 1.2 3 1.2 3 1.3 3 1.2 3 1.2 3 1.2 3 1.2 3 1.2 3 1.2 3 1.2 3 1.2 3 1.2 3 1.2 3 1.1 3 1.2 3 1.2 3 1.1 3 1.2 3 1.1 3 1.2 3 1.1 3 1.2 3 1.1 3 1.2 3 1.1 3 1.1 3 1.1 3 1.1 3 1.1 3 1.1 3 1.1 3 1.1 3 1.1 3 1.1 3 1 3 1.1 3 1 3 1 3 1 3 1 3 1 3 1 3 0.9 3 0.9 3 1 3 0.9 3 0.8 3 0.9 3 0.8 3 0.9 3 0.8 3 0.8 3 0.7 3 0.8 3 0.7 3 0.7 3 0.7 3 0.7 3 0.6 3 0.7 3 0.6 3 0.7 3 0.6 3 0.6 3 0.5 3 0.6 3 0.6 3 0.5 3 0.6 3 0.5 3 0.5 3 0.6 3 0.5 3 0.5 3 0.5 3 0.5 3 0.5 3 0.5 3 0.5 3 0.5 3 0.5 3 0.4 3 0.5 3 0.5 3 0.5 3 0.5 3 0.5 3 0.5 3 0.5 3 0.5 3 0.5 3 0.5 3 0.5 3 0.5 3 0.6 0.2 0"/>
<path id="f_mel545" d="M64 0l3 0 3 0 3 0 3 0 3 0 3 0 3 0 3 0 3 0 3 0 3 0 3 0 3 0 3 0 3 0 3 0 3 0 3 0 3 0 3 0 3 0 3 0 3 0 3 0 3 0 3 0 3 0 3 0 3 0 3 0 3 0 3 0 3 0 3 0 3 0 3 0 3 0 3 0 3 0 3 0 3 0 3 0 3 0 3 0 3 0 3 0 3 0 3 0 3 0 3 0 3 0 3 0 3 0 3 0 3 0 3 0 3 0 3 0 3 0 3 0 3 0 3 0 3 0 3 0 3 0 3 0 3 0 3 0 3 0 3 0 3 0 3 0 3 0 3 0 3 0 3 0 3 0 3 0 3 0 3 0 3 0 3 0 3 0 3 0 3 0 3 0 3 0 3 0 3 -0.1 3 0 3 0 3 0 3 0 3 0 3 0 3 0 3 -0.1 3 0 3 0 3 0 3 0 3 -0.1 3 0 3 0 3 -0.1 3 0 3 0 3 -0.1 3 0 3 -0.1 3 0 3 -0.1 3 0 3 -0.1 3 0 3 -0.1 3 -0.1 3 0 3 -0.1 3 -0.1 3 -0.1 3 -0.1 3 -0.1 3 -0.1 3 -0.1 3 -0.2 3 -0.1 3 -0.1 3 -0.2 3 -0.2 3 -0.2 3 -0.2 3 -0.3 3 -0.3 3 -0.3 3 -0.4 3 -0.3 3 -0.3 3 -0.4 3 -0.3 3 -0.4 3 -0.4 3 -0.4 3 -0.4 3 -0.5 3 -0.5 3 -0.5 3 -0.5 3 -0.6 3 -0.6 3 -0.6 3 -0.7 3 -0.7 3 -0.8 3 -0.7 3 -0.8 3 -0.9 3 -0.8 3 -0.9 3 -0.9 3 -1 3 -1 3 -1 3 -1 3 -1.1 3 -1.1 3 -1.2 3 -1.2 3 -1.2 3 -1.3 3 -1.3 3 -1.4 3 -1.4 3 -1.4 3 -1.5 3 -1.5 3 -1.6 3 -1.6 3 -1.6 3 -1.7 3 -1.7 3 -1.8 3 -1.8 3 -1.8 3 -1.9 3 -1.9 3 -2 3 -2 3 -2 3 -2.1 3 -2.1 3 -2.1 3 -2.2 3 -2.2 3 -2.2 3 -2.3 3 -2.3 3 -2.3 3 -2.4 3 -2.4 3 -2.4 3 -2.4 3 -2.5 3 -2.5 3 -2.5 3 -2.5 3 -2.5 3 -2.6 3 -2.5 3 -2.6 3 -2.5 3 -2.6 3 -2.6 3 -2.6 3 -2.5 3 -2.6 3 -2.5 3 -2.6 3 -2.5 3 -2.5 3 -2.5 3 -2.5 3 -2.5 3 -2.4 3 -2.4 3 -2.3 3 -2.4 3 -2.3 3 -2.3 3 -2.2 3 -2.2 3 -2.1 3 -2.1 3 -2 3 -2 3 -2 3 -1.8 3 -1.9 3 -1.7 3 -1.7 3 -1.6 3 -1.6 3 -1.5 3 -1.4 3 -1.3 3 -1.3 3 -1.2 3 -1.2 3 -1 3 -1 3 -1 3 -0.8 3 -0.8 3 -0.7 3 -0.7 3 -0.6 3 -0.5 3 -0.4 3 -0.4 3 -0.3 3 -0.2 3 -0.2 3 -0.1 3 0 3 0 3 0.1 3 0.2 3 0.2 3 0.3 3 0.4 3 0.4 3 0.5 3 0.5 3 0.5 3 0.7 3 0.6 3 0.7 3 0.8 3 0.8 3 0.8 3 0.9 3 0.9 3 1 3 1 3 1 3 1 3 1.1 3 1.1 3 1.1 3 1.2 3 1.1 3 1.2 3 1.2 3 1.2 3 1.2 3 1.2 3 1.3 3 1.2 3 1.3 3 1.2 3 1.3 3 1.3 3 1.3 3 1.3 3 1.3 3 1.3 3 1.3 3 1.3 3 1.3 3 1.3 3 1.3 3 1.3 3 1.3 3 1.3 3 1.3 3 1.3 3 1.3 3 1.3 3 1.3 3 1.3 3 1.2 3 1.3 3 1.3 3 1.2 3 1.3 3 1.2 3 1.2 3 1.3 3 1.2 3 1.2 3 1.3 3 1.2 3 1.2 3 1.2 3 1.2 3 1.2 3 1.2 3 1.2 3 1.2 3 1.2 3 1.2 3 1.1 3 1.2 3 1.2 3 1.1 3 1.2 3 1.1 3 1.2 3 1.1 3 1.2 3 1.1 3 1.2 3 1.1 3 1.1 3 1.1 3 1.1 3 1.1 3 1.1 3 1.1 3 1.1 3 1.1 3 1.1 3 1 3 1.1 3 1 3 1 3 1 3 1 3 1 3 1 3 0.9 3 0.9 3 1 3 0.9 3 0.8 3 0.9 3 0.8 3 0.9 3 0.8 3 0.8 3 0.7 3 0.8 3 0.7 3 0.7 3 0.7 3 0.7 3 0.6 3 0.7 3 0.6 3 0.7 3 0.6 3 0.6 3 0.5 3 0.6 3 0.6 3 0.5 3 0.6 3 0.5 3 0.5 3 0.6 3 0.5 3 0.5 3 0.5 3 0.5 3 0.5 3 0.5 3 0.5 3 0.5 3 0.5 3 0.4 3 0.5 3 0.5 3 0.5 3 0.5 3 0.5 3 0.5 3 0.5 3 0.5 3 0.5 3 0.5 3 0.5 3 0.5 3 0.6 0.2 0L1333.2 0L64 0Z"/>
<mask id="m_mel545" maskUnits="userSpaceOnUse" x="0" y="-420" width="1345" height="430"><rect x="0" y="-420" width="1345" height="430" fill="#fff"/><use href="#f_mel545" fill="#000" transform="translate(0,-1.6)"/></mask>
<mask id="mb_mel545" maskUnits="userSpaceOnUse" x="0" y="-420" width="1345" height="430"><use href="#f_mel545" fill="#fff" transform="translate(0,1.6)"/></mask>
<mask id="s_mel545" maskUnits="userSpaceOnUse" x="0" y="-420" width="1345" height="430"><use href="#c_mel545" fill="none" stroke="#fff" stroke-width="3.8"/></mask>
</defs>
<rect width="1345" height="2097" fill="#fff"/>
<g transform="translate(0,354.4)">
<use href="#f_hca575" fill="rgba(128,128,128,0.5)"/>
<use href="#f_mel575" fill="rgba(255,0,0,0.5)"/>
<use href="#c_hca575" fill="none" stroke="rgb(31,31,31)" stroke-width="6.0" filter="url(#gb2)" mask="url(#mb_hca575)" style="mix-blend-mode:color-dodge"/>
<use href="#c_hca575" fill="none" stroke="rgb(76,76,76)" stroke-width="9.0" filter="url(#gb)" mask="url(#m_hca575)" style="mix-blend-mode:color-dodge"/>
<use href="#c_mel575" fill="none" stroke="rgb(31,31,31)" stroke-width="6.0" filter="url(#gb2)" mask="url(#mb_mel575)" style="mix-blend-mode:color-dodge"/>
<use href="#c_mel575" fill="none" stroke="rgb(76,76,76)" stroke-width="9.0" filter="url(#gb)" mask="url(#m_mel575)" style="mix-blend-mode:color-dodge"/>
<use href="#c_hca575" fill="none" stroke="#000" stroke-width="2.3" stroke-linejoin="round"/>
<use href="#f_mel575" fill="rgba(255,0,0,1)" fill-opacity="0.175" mask="url(#s_hca575)"/>
<use href="#c_mel575" fill="none" stroke="#000" stroke-width="2.3" stroke-linejoin="round"/>
<line x1="1332.6" y1="-55.11" x2="1332.6" y2="0" stroke="rgb(185,30,30)" stroke-width="1.3"/>
</g>
<g stroke="#000" stroke-width="2.2"><line x1="64" y1="1" x2="64" y2="367.9"/><line x1="50.4" y1="354.4" x2="64" y2="354.4"/><line x1="50.4" y1="296.9" x2="64" y2="296.9"/><line x1="50.4" y1="239.4" x2="64" y2="239.4"/><line x1="50.4" y1="181.9" x2="64" y2="181.9"/><line x1="50.4" y1="124.4" x2="64" y2="124.4"/><line x1="50.4" y1="66.9" x2="64" y2="66.9"/><line x1="63.7" y1="354.4" x2="63.7" y2="367.9"/><line x1="244.9" y1="354.4" x2="244.9" y2="367.9"/><line x1="428.2" y1="354.4" x2="428.2" y2="367.9"/><line x1="611.1" y1="354.4" x2="611.1" y2="367.9"/><line x1="792.9" y1="354.4" x2="792.9" y2="367.9"/><line x1="975.3" y1="354.4" x2="975.3" y2="367.9"/><line x1="1156.8" y1="354.4" x2="1156.8" y2="367.9"/></g>
<line x1="64" y1="354.4" x2="1334" y2="354.4" stroke="#000" stroke-width="2.6"/>
<text x="43.6" y="361" class="yt">0</text>
<text x="43.6" y="303.5" class="yt">0.1</text>
<text x="43.6" y="246" class="yt">0.2</text>
<text x="43.6" y="188.5" class="yt">0.3</text>
<text x="43.6" y="131" class="yt">0.4</text>
<text x="43.6" y="73.5" class="yt">0.5</text>
<text transform="translate(13.9 165.9) rotate(-90)" class="dl">Density</text>
<text x="105" y="42.3" class="tt">a. Melancholic MDD</text>
<path d="M620.8 157.3V122.1H913.6V154.2" fill="none" stroke="#000" stroke-width="2" stroke-linejoin="round"/>
<g fill="#000"><path d="M748.05 102.7L749.65 94.8A2.15 2.15 0 0 0 745.35 94.8L746.95 102.7Z"/><path d="M746.95 102.7L745.35 110.6A2.15 2.15 0 0 0 749.65 110.6L748.05 102.7Z"/><path d="M747.77 103.18L755.42 100.61A2.15 2.15 0 0 0 753.27 96.89L747.23 102.22Z"/><path d="M747.23 102.22L739.58 104.79A2.15 2.15 0 0 0 741.73 108.51L747.77 103.18Z"/><path d="M747.23 103.18L753.27 108.51A2.15 2.15 0 0 0 755.42 104.79L747.77 102.22Z"/><path d="M747.77 102.22L741.73 96.89A2.15 2.15 0 0 0 739.58 100.61L747.23 103.18Z"/><circle cx="747.5" cy="102.7" r="1.3"/></g>
<g fill="#000"><path d="M772.45 102.7L774.05 94.8A2.15 2.15 0 0 0 769.75 94.8L771.35 102.7Z"/><path d="M771.35 102.7L769.75 110.6A2.15 2.15 0 0 0 774.05 110.6L772.45 102.7Z"/><path d="M772.17 103.18L779.82 100.61A2.15 2.15 0 0 0 777.67 96.89L771.62 102.22Z"/><path d="M771.62 102.22L763.98 104.79A2.15 2.15 0 0 0 766.13 108.51L772.17 103.18Z"/><path d="M771.62 103.18L777.67 108.51A2.15 2.15 0 0 0 779.82 104.79L772.17 102.22Z"/><path d="M772.17 102.22L766.13 96.89A2.15 2.15 0 0 0 763.98 100.61L771.62 103.18Z"/><circle cx="771.9" cy="102.7" r="1.3"/></g>
<g fill="#000"><path d="M796.75 102.7L798.35 94.8A2.15 2.15 0 0 0 794.05 94.8L795.65 102.7Z"/><path d="M795.65 102.7L794.05 110.6A2.15 2.15 0 0 0 798.35 110.6L796.75 102.7Z"/><path d="M796.48 103.18L804.12 100.61A2.15 2.15 0 0 0 801.97 96.89L795.93 102.22Z"/><path d="M795.93 102.22L788.28 104.79A2.15 2.15 0 0 0 790.43 108.51L796.48 103.18Z"/><path d="M795.93 103.18L801.97 108.51A2.15 2.15 0 0 0 804.12 104.79L796.48 102.22Z"/><path d="M796.48 102.22L790.43 96.89A2.15 2.15 0 0 0 788.28 100.61L795.93 103.18Z"/><circle cx="796.2" cy="102.7" r="1.3"/></g>
<rect x="1075.6" y="104" width="58.1" height="27" fill="rgb(255,150,150)"/><rect x="1083.4" y="110.3" width="42.5" height="14.4" rx="4" fill="rgb(255,128,128)" filter="url(#lgb)"/><rect x="1075.6" y="104" width="58.1" height="27" fill="none" stroke="#000" stroke-width="2.4"/><text x="1142.4" y="126.8" class="lg">Mel. MDD</text>
<rect x="1075.6" y="139.9" width="58.1" height="25" fill="rgb(226,226,226)"/><rect x="1083.4" y="146.2" width="42.5" height="12.4" rx="4" fill="rgb(191,191,191)" filter="url(#lgb)"/><rect x="1075.6" y="139.9" width="58.1" height="25" fill="none" stroke="#000" stroke-width="2.4"/><text x="1144.9" y="160.3" class="lg">HC</text>
<g transform="translate(0,775.8)">
<use href="#f_hca575" fill="rgba(128,128,128,0.5)"/>
<use href="#f_nonmel575" fill="rgba(0,255,255,0.5)"/>
<use href="#f_mel575" fill="rgba(255,0,0,0.5)"/>
<use href="#c_hca575" fill="none" stroke="rgb(31,31,31)" stroke-width="6.0" filter="url(#gb2)" mask="url(#mb_hca575)" style="mix-blend-mode:color-dodge"/>
<use href="#c_hca575" fill="none" stroke="rgb(76,76,76)" stroke-width="9.0" filter="url(#gb)" mask="url(#m_hca575)" style="mix-blend-mode:color-dodge"/>
<use href="#c_nonmel575" fill="none" stroke="rgb(31,31,31)" stroke-width="6.0" filter="url(#gb2)" mask="url(#mb_nonmel575)" style="mix-blend-mode:color-dodge"/>
<use href="#c_nonmel575" fill="none" stroke="rgb(76,76,76)" stroke-width="9.0" filter="url(#gb)" mask="url(#m_nonmel575)" style="mix-blend-mode:color-dodge"/>
<use href="#c_mel575" fill="none" stroke="rgb(31,31,31)" stroke-width="6.0" filter="url(#gb2)" mask="url(#mb_mel575)" style="mix-blend-mode:color-dodge"/>
<use href="#c_mel575" fill="none" stroke="rgb(76,76,76)" stroke-width="9.0" filter="url(#gb)" mask="url(#m_mel575)" style="mix-blend-mode:color-dodge"/>
<use href="#c_hca575" fill="none" stroke="#000" stroke-width="2.3" stroke-linejoin="round"/>
<use href="#f_nonmel575" fill="rgba(0,255,255,1)" fill-opacity="0.175" mask="url(#s_hca575)"/>
<use href="#f_mel575" fill="rgba(255,0,0,1)" fill-opacity="0.175" mask="url(#s_hca575)"/>
<use href="#c_nonmel575" fill="none" stroke="#000" stroke-width="2.3" stroke-linejoin="round"/>
<use href="#f_mel575" fill="rgba(255,0,0,1)" fill-opacity="0.175" mask="url(#s_nonmel575)"/>
<use href="#c_mel575" fill="none" stroke="#000" stroke-width="2.3" stroke-linejoin="round"/>
<line x1="1332.6" y1="-55.11" x2="1332.6" y2="0" stroke="rgb(185,30,30)" stroke-width="1.3"/>
</g>
<g stroke="#000" stroke-width="2.2"><line x1="64" y1="410.5" x2="64" y2="789.3"/><line x1="50.4" y1="775.8" x2="64" y2="775.8"/><line x1="50.4" y1="718.3" x2="64" y2="718.3"/><line x1="50.4" y1="660.8" x2="64" y2="660.8"/><line x1="50.4" y1="603.3" x2="64" y2="603.3"/><line x1="50.4" y1="545.8" x2="64" y2="545.8"/><line x1="50.4" y1="488.3" x2="64" y2="488.3"/><line x1="63.7" y1="775.8" x2="63.7" y2="789.3"/><line x1="244.9" y1="775.8" x2="244.9" y2="789.3"/><line x1="428.2" y1="775.8" x2="428.2" y2="789.3"/><line x1="611.1" y1="775.8" x2="611.1" y2="789.3"/><line x1="792.9" y1="775.8" x2="792.9" y2="789.3"/><line x1="975.3" y1="775.8" x2="975.3" y2="789.3"/><line x1="1156.8" y1="775.8" x2="1156.8" y2="789.3"/></g>
<line x1="64" y1="775.8" x2="1334" y2="775.8" stroke="#000" stroke-width="2.6"/>
<text x="43.6" y="782.4" class="yt">0</text>
<text x="43.6" y="724.9" class="yt">0.1</text>
<text x="43.6" y="667.4" class="yt">0.2</text>
<text x="43.6" y="609.9" class="yt">0.3</text>
<text x="43.6" y="552.4" class="yt">0.4</text>
<text x="43.6" y="494.9" class="yt">0.5</text>
<text transform="translate(13.9 587.3) rotate(-90)" class="dl">Density</text>
<text x="105" y="451.4" class="tt">b. Non-melancholic MDD</text>
<path d="M620.8 578.3V541.6H736.6V569.4" fill="none" stroke="#000" stroke-width="2" stroke-linejoin="round"/>
<text x="663" y="530.5" class="ns">n.s.</text>
<rect x="1075.6" y="500" width="57.4" height="24.1" fill="rgb(128,255,255)"/><rect x="1083.4" y="506.3" width="41.8" height="11.5" rx="4" fill="rgb(96,223,223)" filter="url(#lgb)"/><rect x="1075.6" y="500" width="57.4" height="24.1" fill="none" stroke="#000" stroke-width="2.4"/><text x="1143" y="523.6" class="lg">Non mel. MDD</text>
<rect x="1075.6" y="534.9" width="57.4" height="24.1" fill="rgb(226,226,226)"/><rect x="1083.4" y="541.2" width="41.8" height="11.5" rx="4" fill="rgb(191,191,191)" filter="url(#lgb)"/><rect x="1075.6" y="534.9" width="57.4" height="24.1" fill="none" stroke="#000" stroke-width="2.4"/><text x="1144" y="556" class="lg">HC</text>
<rect x="1075.6" y="568.4" width="57.4" height="23" fill="rgb(255,150,150)"/><rect x="1083.4" y="574.7" width="41.8" height="10.4" rx="4" fill="rgb(255,128,128)" filter="url(#lgb)"/><rect x="1075.6" y="568.4" width="57.4" height="23" fill="none" stroke="#000" stroke-width="2.4"/><text x="1144" y="589.9" class="lg">Mel. MDD</text>
<g transform="translate(0,1195.3)">
<use href="#f_hca575" fill="rgba(128,128,128,0.5)"/>
<use href="#f_treat575" fill="rgba(128,255,128,0.5)"/>
<use href="#f_mel575" fill="rgba(255,0,0,0.5)"/>
<use href="#c_hca575" fill="none" stroke="rgb(31,31,31)" stroke-width="6.0" filter="url(#gb2)" mask="url(#mb_hca575)" style="mix-blend-mode:color-dodge"/>
<use href="#c_hca575" fill="none" stroke="rgb(76,76,76)" stroke-width="9.0" filter="url(#gb)" mask="url(#m_hca575)" style="mix-blend-mode:color-dodge"/>
<use href="#c_treat575" fill="none" stroke="rgb(31,31,31)" stroke-width="6.0" filter="url(#gb2)" mask="url(#mb_treat575)" style="mix-blend-mode:color-dodge"/>
<use href="#c_treat575" fill="none" stroke="rgb(76,76,76)" stroke-width="9.0" filter="url(#gb)" mask="url(#m_treat575)" style="mix-blend-mode:color-dodge"/>
<use href="#c_mel575" fill="none" stroke="rgb(31,31,31)" stroke-width="6.0" filter="url(#gb2)" mask="url(#mb_mel575)" style="mix-blend-mode:color-dodge"/>
<use href="#c_mel575" fill="none" stroke="rgb(76,76,76)" stroke-width="9.0" filter="url(#gb)" mask="url(#m_mel575)" style="mix-blend-mode:color-dodge"/>
<use href="#c_hca575" fill="none" stroke="#000" stroke-width="2.3" stroke-linejoin="round"/>
<use href="#f_treat575" fill="rgba(128,255,128,1)" fill-opacity="0.175" mask="url(#s_hca575)"/>
<use href="#f_mel575" fill="rgba(255,0,0,1)" fill-opacity="0.175" mask="url(#s_hca575)"/>
<use href="#c_treat575" fill="none" stroke="#000" stroke-width="2.3" stroke-linejoin="round"/>
<use href="#f_mel575" fill="rgba(255,0,0,1)" fill-opacity="0.175" mask="url(#s_treat575)"/>
<use href="#c_mel575" fill="none" stroke="#000" stroke-width="2.3" stroke-linejoin="round"/>
<line x1="1332.6" y1="-55.11" x2="1332.6" y2="0" stroke="rgb(185,30,30)" stroke-width="1.3"/>
</g>
<g stroke="#000" stroke-width="2.2"><line x1="64" y1="833.7" x2="64" y2="1208.8"/><line x1="50.4" y1="1195.3" x2="64" y2="1195.3"/><line x1="50.4" y1="1137.8" x2="64" y2="1137.8"/><line x1="50.4" y1="1080.3" x2="64" y2="1080.3"/><line x1="50.4" y1="1022.8" x2="64" y2="1022.8"/><line x1="50.4" y1="965.3" x2="64" y2="965.3"/><line x1="50.4" y1="907.8" x2="64" y2="907.8"/><line x1="63.7" y1="1195.3" x2="63.7" y2="1208.8"/><line x1="244.9" y1="1195.3" x2="244.9" y2="1208.8"/><line x1="428.2" y1="1195.3" x2="428.2" y2="1208.8"/><line x1="611.1" y1="1195.3" x2="611.1" y2="1208.8"/><line x1="792.9" y1="1195.3" x2="792.9" y2="1208.8"/><line x1="975.3" y1="1195.3" x2="975.3" y2="1208.8"/><line x1="1156.8" y1="1195.3" x2="1156.8" y2="1208.8"/></g>
<line x1="64" y1="1195.3" x2="1334" y2="1195.3" stroke="#000" stroke-width="2.6"/>
<text x="43.6" y="1201.9" class="yt">0</text>
<text x="43.6" y="1144.4" class="yt">0.1</text>
<text x="43.6" y="1086.9" class="yt">0.2</text>
<text x="43.6" y="1029.4" class="yt">0.3</text>
<text x="43.6" y="971.9" class="yt">0.4</text>
<text x="43.6" y="914.4" class="yt">0.5</text>
<text transform="translate(13.9 1006.8) rotate(-90)" class="dl">Density</text>
<text x="105" y="881" class="tt">c. Treatment-resistant MDD</text>
<path d="M620.6 997.5V962.8H633.8V1051.3" fill="none" stroke="#000" stroke-width="2" stroke-linejoin="round"/>
<text x="608.6" y="946.6" class="ns">n.s.</text>
<rect x="1075.6" y="932.9" width="59.1" height="25.7" fill="rgb(192,252,192)"/><rect x="1083.4" y="939.2" width="43.5" height="13.1" rx="4" fill="rgb(160,224,160)" filter="url(#lgb)"/><rect x="1075.6" y="932.9" width="59.1" height="25.7" fill="none" stroke="#000" stroke-width="2.4"/><text x="1148.3" y="953.3" class="lg">Treat. res. MDD</text>
<rect x="1076.5" y="967.4" width="58.2" height="23.9" fill="rgb(226,226,226)"/><rect x="1084.3" y="973.7" width="42.6" height="11.3" rx="4" fill="rgb(191,191,191)" filter="url(#lgb)"/><rect x="1076.5" y="967.4" width="58.2" height="23.9" fill="none" stroke="#000" stroke-width="2.4"/><text x="1150.4" y="985.3" class="lg">HC</text>
<rect x="1077.7" y="999" width="57" height="23.6" fill="rgb(255,150,150)"/><rect x="1085.5" y="1005.3" width="41.4" height="11" rx="4" fill="rgb(255,128,128)" filter="url(#lgb)"/><rect x="1077.7" y="999" width="57" height="23.6" fill="none" stroke="#000" stroke-width="2.4"/><text x="1149.7" y="1019.2" class="lg">Mel. MDD</text>
<g transform="translate(0,1614.8)">
<use href="#f_hcd575" fill="rgba(128,128,128,0.5)"/>
<use href="#f_autism575" fill="rgba(255,255,0,0.5)"/>
<use href="#f_mel575" fill="rgba(255,0,0,0.5)"/>
<use href="#c_hcd575" fill="none" stroke="rgb(31,31,31)" stroke-width="6.0" filter="url(#gb2)" mask="url(#mb_hcd575)" style="mix-blend-mode:color-dodge"/>
<use href="#c_hcd575" fill="none" stroke="rgb(76,76,76)" stroke-width="9.0" filter="url(#gb)" mask="url(#m_hcd575)" style="mix-blend-mode:color-dodge"/>
<use href="#c_autism575" fill="none" stroke="rgb(31,31,31)" stroke-width="6.0" filter="url(#gb2)" mask="url(#mb_autism575)" style="mix-blend-mode:color-dodge"/>
<use href="#c_autism575" fill="none" stroke="rgb(76,76,76)" stroke-width="9.0" filter="url(#gb)" mask="url(#m_autism575)" style="mix-blend-mode:color-dodge"/>
<use href="#c_mel575" fill="none" stroke="rgb(31,31,31)" stroke-width="6.0" filter="url(#gb2)" mask="url(#mb_mel575)" style="mix-blend-mode:color-dodge"/>
<use href="#c_mel575" fill="none" stroke="rgb(76,76,76)" stroke-width="9.0" filter="url(#gb)" mask="url(#m_mel575)" style="mix-blend-mode:color-dodge"/>
<use href="#c_hcd575" fill="none" stroke="#000" stroke-width="2.3" stroke-linejoin="round"/>
<use href="#f_autism575" fill="rgba(255,255,0,1)" fill-opacity="0.175" mask="url(#s_hcd575)"/>
<use href="#f_mel575" fill="rgba(255,0,0,1)" fill-opacity="0.175" mask="url(#s_hcd575)"/>
<use href="#c_autism575" fill="none" stroke="#000" stroke-width="2.3" stroke-linejoin="round"/>
<use href="#f_mel575" fill="rgba(255,0,0,1)" fill-opacity="0.175" mask="url(#s_autism575)"/>
<use href="#c_mel575" fill="none" stroke="#000" stroke-width="2.3" stroke-linejoin="round"/>
<line x1="1332.6" y1="-55.11" x2="1332.6" y2="0" stroke="rgb(185,30,30)" stroke-width="1.3"/>
</g>
<g stroke="#000" stroke-width="2.2"><line x1="64" y1="1251.1" x2="64" y2="1628.3"/><line x1="50.4" y1="1614.8" x2="64" y2="1614.8"/><line x1="50.4" y1="1557.3" x2="64" y2="1557.3"/><line x1="50.4" y1="1499.8" x2="64" y2="1499.8"/><line x1="50.4" y1="1442.3" x2="64" y2="1442.3"/><line x1="50.4" y1="1384.8" x2="64" y2="1384.8"/><line x1="50.4" y1="1327.3" x2="64" y2="1327.3"/><line x1="63.7" y1="1614.8" x2="63.7" y2="1628.3"/><line x1="244.9" y1="1614.8" x2="244.9" y2="1628.3"/><line x1="428.2" y1="1614.8" x2="428.2" y2="1628.3"/><line x1="611.1" y1="1614.8" x2="611.1" y2="1628.3"/><line x1="792.9" y1="1614.8" x2="792.9" y2="1628.3"/><line x1="975.3" y1="1614.8" x2="975.3" y2="1628.3"/><line x1="1156.8" y1="1614.8" x2="1156.8" y2="1628.3"/></g>
<line x1="64" y1="1614.8" x2="1334" y2="1614.8" stroke="#000" stroke-width="2.6"/>
<text x="43.6" y="1621.4" class="yt">0</text>
<text x="43.6" y="1563.9" class="yt">0.1</text>
<text x="43.6" y="1506.4" class="yt">0.2</text>
<text x="43.6" y="1448.9" class="yt">0.3</text>
<text x="43.6" y="1391.4" class="yt">0.4</text>
<text x="43.6" y="1333.9" class="yt">0.5</text>
<text transform="translate(13.9 1426.3) rotate(-90)" class="dl">Density</text>
<text x="105" y="1305.3" class="tt">d. Autism</text>
<path d="M584.8 1428.3V1382.6H604.6V1437.5" fill="none" stroke="#000" stroke-width="2" stroke-linejoin="round"/>
<text x="576.4" y="1369.9" class="ns">n.s.</text>
<rect x="1073.5" y="1358.5" width="59" height="27" fill="rgb(255,255,195)"/><rect x="1081.3" y="1364.8" width="43.4" height="14.4" rx="4" fill="rgb(255,255,125)" filter="url(#lgb)"/><rect x="1073.5" y="1358.5" width="59" height="27" fill="none" stroke="#000" stroke-width="2.4"/><text x="1143" y="1379.3" class="lg">Autism</text>
<rect x="1073.5" y="1394.5" width="56.3" height="22.4" fill="rgb(226,226,226)"/><rect x="1081.3" y="1400.8" width="40.7" height="9.8" rx="4" fill="rgb(191,191,191)" filter="url(#lgb)"/><rect x="1073.5" y="1394.5" width="56.3" height="22.4" fill="none" stroke="#000" stroke-width="2.4"/><text x="1146.2" y="1411.3" class="lg">HC</text>
<rect x="1073.5" y="1425.7" width="56.3" height="23.6" fill="rgb(255,150,150)"/><rect x="1081.3" y="1432" width="40.7" height="11" rx="4" fill="rgb(255,128,128)" filter="url(#lgb)"/><rect x="1073.5" y="1425.7" width="56.3" height="23.6" fill="none" stroke="#000" stroke-width="2.4"/><text x="1145.1" y="1444.6" class="lg">Mel. MDD</text>
<g transform="translate(0,2035.8)">
<use href="#f_hce545" fill="rgba(128,128,128,0.5)"/>
<use href="#f_schizo545" fill="rgba(255,128,0,0.5)"/>
<use href="#f_mel545" fill="rgba(255,0,0,0.5)"/>
<use href="#c_hce545" fill="none" stroke="rgb(31,31,31)" stroke-width="6.0" filter="url(#gb2)" mask="url(#mb_hce545)" style="mix-blend-mode:color-dodge"/>
<use href="#c_hce545" fill="none" stroke="rgb(76,76,76)" stroke-width="9.0" filter="url(#gb)" mask="url(#m_hce545)" style="mix-blend-mode:color-dodge"/>
<use href="#c_schizo545" fill="none" stroke="rgb(31,31,31)" stroke-width="6.0" filter="url(#gb2)" mask="url(#mb_schizo545)" style="mix-blend-mode:color-dodge"/>
<use href="#c_schizo545" fill="none" stroke="rgb(76,76,76)" stroke-width="9.0" filter="url(#gb)" mask="url(#m_schizo545)" style="mix-blend-mode:color-dodge"/>
<use href="#c_mel545" fill="none" stroke="rgb(31,31,31)" stroke-width="6.0" filter="url(#gb2)" mask="url(#mb_mel545)" style="mix-blend-mode:color-dodge"/>
<use href="#c_mel545" fill="none" stroke="rgb(76,76,76)" stroke-width="9.0" filter="url(#gb)" mask="url(#m_mel545)" style="mix-blend-mode:color-dodge"/>
<use href="#c_hce545" fill="none" stroke="#000" stroke-width="2.3" stroke-linejoin="round"/>
<use href="#f_schizo545" fill="rgba(255,128,0,1)" fill-opacity="0.175" mask="url(#s_hce545)"/>
<use href="#f_mel545" fill="rgba(255,0,0,1)" fill-opacity="0.175" mask="url(#s_hce545)"/>
<use href="#c_schizo545" fill="none" stroke="#000" stroke-width="2.3" stroke-linejoin="round"/>
<use href="#f_mel545" fill="rgba(255,0,0,1)" fill-opacity="0.175" mask="url(#s_schizo545)"/>
<use href="#c_mel545" fill="none" stroke="#000" stroke-width="2.3" stroke-linejoin="round"/>
<line x1="1332.6" y1="-52.19" x2="1332.6" y2="0" stroke="rgb(185,30,30)" stroke-width="1.3"/>
</g>
<g stroke="#000" stroke-width="2.2"><line x1="64" y1="1666.7" x2="64" y2="2049.3"/><line x1="50.4" y1="2035.8" x2="64" y2="2035.8"/><line x1="50.4" y1="1981.3" x2="64" y2="1981.3"/><line x1="50.4" y1="1926.8" x2="64" y2="1926.8"/><line x1="50.4" y1="1872.3" x2="64" y2="1872.3"/><line x1="50.4" y1="1817.8" x2="64" y2="1817.8"/><line x1="50.4" y1="1763.3" x2="64" y2="1763.3"/><line x1="63.7" y1="2035.8" x2="63.7" y2="2049.3"/><line x1="244.9" y1="2035.8" x2="244.9" y2="2049.3"/><line x1="428.2" y1="2035.8" x2="428.2" y2="2049.3"/><line x1="611.1" y1="2035.8" x2="611.1" y2="2049.3"/><line x1="792.9" y1="2035.8" x2="792.9" y2="2049.3"/><line x1="975.3" y1="2035.8" x2="975.3" y2="2049.3"/><line x1="1156.8" y1="2035.8" x2="1156.8" y2="2049.3"/><line x1="1337.3" y1="2035.8" x2="1337.3" y2="2049.3"/></g>
<line x1="64" y1="2035.8" x2="1344" y2="2035.8" stroke="#000" stroke-width="2.6"/>
<text x="43.6" y="2042.4" class="yt">0</text>
<text x="43.6" y="1987.9" class="yt">0.1</text>
<text x="43.6" y="1933.4" class="yt">0.2</text>
<text x="43.6" y="1878.9" class="yt">0.3</text>
<text x="43.6" y="1824.4" class="yt">0.4</text>
<text x="43.6" y="1769.9" class="yt">0.5</text>
<text transform="translate(13.9 1847.3) rotate(-90)" class="dl">Density</text>
<text x="105" y="1710.6" class="tt">e. Schizophrenia</text>
<path d="M601.1 1828.6V1794.8H634.3V1816.1" fill="none" stroke="#000" stroke-width="2" stroke-linejoin="round"/>
<text x="599.4" y="1784.2" class="ns">n.s.</text>
<g><ellipse cx="651.6" cy="1779.2" rx="1.9" ry="1" fill="#6a6a6a"/><ellipse cx="671.2" cy="1779.2" rx="1.9" ry="1" fill="#6a6a6a"/><ellipse cx="661" cy="1779.2" rx="1.6" ry="0.9" fill="#ececec"/><ellipse cx="683.7" cy="1779.2" rx="1.6" ry="0.9" fill="#ececec"/></g>
<rect x="1076.5" y="1770.7" width="57.5" height="24.5" fill="rgb(255,238,170)"/><rect x="1084.3" y="1777" width="41.9" height="11.9" rx="4" fill="rgb(255,190,125)" filter="url(#lgb)"/><rect x="1076.5" y="1770.7" width="57.5" height="24.5" fill="none" stroke="#000" stroke-width="2.4"/><text x="1146.8" y="1792.2" class="lg">Schizophrenia</text>
<rect x="1076.5" y="1803.6" width="58.6" height="24.1" fill="rgb(226,226,226)"/><rect x="1084.3" y="1809.9" width="43" height="11.5" rx="4" fill="rgb(191,191,191)" filter="url(#lgb)"/><rect x="1076.5" y="1803.6" width="58.6" height="24.1" fill="none" stroke="#000" stroke-width="2.4"/><text x="1147.2" y="1824" class="lg">HC</text>
<rect x="1077.7" y="1835.8" width="57.4" height="23" fill="rgb(255,150,150)"/><rect x="1085.5" y="1842.1" width="41.8" height="10.4" rx="4" fill="rgb(255,128,128)" filter="url(#lgb)"/><rect x="1077.7" y="1835.8" width="57.4" height="23" fill="none" stroke="#000" stroke-width="2.4"/><text x="1147.2" y="1858.5" class="lg">Mel. MDD</text>
<text x="63.7" y="2071.7" class="xt">−3</text>
<text x="244.9" y="2071.7" class="xt">−2</text>
<text x="428.2" y="2071.7" class="xt">−1</text>
<text x="611.1" y="2071.7" class="xt">0</text>
<text x="792.9" y="2071.7" class="xt">1</text>
<text x="975.3" y="2071.7" class="xt">2</text>
<text x="1156.8" y="2071.7" class="xt">3</text>
<text x="1337.3" y="2071.7" class="xt">4</text>
<text transform="translate(701.8 2092.8) scale(0.95 1)" class="xl">Liability(WLS)</text>
</svg>
</body></html>
